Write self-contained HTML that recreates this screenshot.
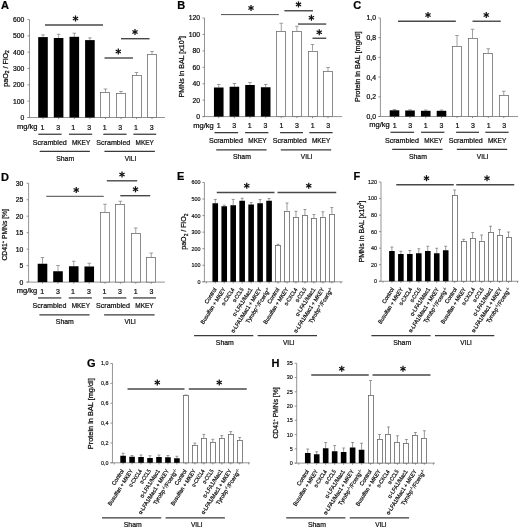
<!DOCTYPE html>
<html><head><meta charset="utf-8"><title>Figure</title>
<style>html,body{margin:0;padding:0;background:#fff}svg{display:block;filter:grayscale(1)}text{font-family:"Liberation Sans", sans-serif;stroke:#111;stroke-width:0.22px}</style>
</head><body>
<svg width="520" height="528" viewBox="0 0 520 528" font-family='"Liberation Sans", sans-serif'>
<rect width="520" height="528" fill="#fff"/>
<text x="1.00" y="9.40" font-size="11" text-anchor="start" fill="#000" font-weight="bold" >A</text>
<line x1="29.50" y1="19.50" x2="29.50" y2="117.50" stroke="#7a7a7a" stroke-width="0.8" />
<line x1="27.50" y1="117.50" x2="165.00" y2="117.50" stroke="#7a7a7a" stroke-width="0.8" />
<line x1="27.50" y1="117.50" x2="29.50" y2="117.50" stroke="#7a7a7a" stroke-width="0.8" />
<text x="24.30" y="119.95" font-size="6.8" text-anchor="end" fill="#0a0a0a" style="stroke-width:0.22px" >0</text>
<line x1="27.50" y1="101.17" x2="29.50" y2="101.17" stroke="#7a7a7a" stroke-width="0.8" />
<text x="24.30" y="103.62" font-size="6.8" text-anchor="end" fill="#0a0a0a" style="stroke-width:0.22px" >100</text>
<line x1="27.50" y1="84.84" x2="29.50" y2="84.84" stroke="#7a7a7a" stroke-width="0.8" />
<text x="24.30" y="87.29" font-size="6.8" text-anchor="end" fill="#0a0a0a" style="stroke-width:0.22px" >200</text>
<line x1="27.50" y1="68.51" x2="29.50" y2="68.51" stroke="#7a7a7a" stroke-width="0.8" />
<text x="24.30" y="70.96" font-size="6.8" text-anchor="end" fill="#0a0a0a" style="stroke-width:0.22px" >300</text>
<line x1="27.50" y1="52.18" x2="29.50" y2="52.18" stroke="#7a7a7a" stroke-width="0.8" />
<text x="24.30" y="54.63" font-size="6.8" text-anchor="end" fill="#0a0a0a" style="stroke-width:0.22px" >400</text>
<line x1="27.50" y1="35.85" x2="29.50" y2="35.85" stroke="#7a7a7a" stroke-width="0.8" />
<text x="24.30" y="38.30" font-size="6.8" text-anchor="end" fill="#0a0a0a" style="stroke-width:0.22px" >500</text>
<line x1="27.50" y1="19.52" x2="29.50" y2="19.52" stroke="#7a7a7a" stroke-width="0.8" />
<text x="24.30" y="21.97" font-size="6.8" text-anchor="end" fill="#0a0a0a" style="stroke-width:0.22px" >600</text>
<line x1="43.00" y1="117.50" x2="43.00" y2="119.10" stroke="#707070" stroke-width="0.8" />
<line x1="58.60" y1="117.50" x2="58.60" y2="119.10" stroke="#707070" stroke-width="0.8" />
<line x1="74.30" y1="117.50" x2="74.30" y2="119.10" stroke="#707070" stroke-width="0.8" />
<line x1="89.90" y1="117.50" x2="89.90" y2="119.10" stroke="#707070" stroke-width="0.8" />
<line x1="105.50" y1="117.50" x2="105.50" y2="119.10" stroke="#707070" stroke-width="0.8" />
<line x1="121.00" y1="117.50" x2="121.00" y2="119.10" stroke="#707070" stroke-width="0.8" />
<line x1="136.50" y1="117.50" x2="136.50" y2="119.10" stroke="#707070" stroke-width="0.8" />
<line x1="152.00" y1="117.50" x2="152.00" y2="119.10" stroke="#707070" stroke-width="0.8" />
<line x1="43.00" y1="34.90" x2="43.00" y2="37.10" stroke="#787878" stroke-width="0.7" />
<line x1="41.20" y1="34.90" x2="44.80" y2="34.90" stroke="#787878" stroke-width="0.7" />
<rect x="38.20" y="37.10" width="9.60" height="80.40" fill="#000"/>
<line x1="58.60" y1="34.30" x2="58.60" y2="38.00" stroke="#787878" stroke-width="0.7" />
<line x1="56.80" y1="34.30" x2="60.40" y2="34.30" stroke="#787878" stroke-width="0.7" />
<rect x="53.80" y="38.00" width="9.60" height="79.50" fill="#000"/>
<line x1="74.30" y1="33.20" x2="74.30" y2="36.80" stroke="#787878" stroke-width="0.7" />
<line x1="72.50" y1="33.20" x2="76.10" y2="33.20" stroke="#787878" stroke-width="0.7" />
<rect x="69.50" y="36.80" width="9.60" height="80.70" fill="#000"/>
<line x1="89.90" y1="37.90" x2="89.90" y2="40.10" stroke="#787878" stroke-width="0.7" />
<line x1="88.10" y1="37.90" x2="91.70" y2="37.90" stroke="#787878" stroke-width="0.7" />
<rect x="85.10" y="40.10" width="9.60" height="77.40" fill="#000"/>
<line x1="105.50" y1="89.00" x2="105.50" y2="92.50" stroke="#787878" stroke-width="0.7" />
<line x1="103.70" y1="89.00" x2="107.30" y2="89.00" stroke="#787878" stroke-width="0.7" />
<rect x="100.50" y="92.50" width="9.00" height="25.00" fill="#fff" stroke="#6c6c6c" stroke-width="0.78"/>
<line x1="121.00" y1="91.50" x2="121.00" y2="93.00" stroke="#787878" stroke-width="0.7" />
<line x1="119.20" y1="91.50" x2="122.80" y2="91.50" stroke="#787878" stroke-width="0.7" />
<rect x="116.50" y="93.50" width="9.00" height="24.00" fill="#fff" stroke="#6c6c6c" stroke-width="0.78"/>
<line x1="136.50" y1="72.50" x2="136.50" y2="75.50" stroke="#787878" stroke-width="0.7" />
<line x1="134.70" y1="72.50" x2="138.30" y2="72.50" stroke="#787878" stroke-width="0.7" />
<rect x="132.50" y="75.50" width="9.00" height="42.00" fill="#fff" stroke="#6c6c6c" stroke-width="0.78"/>
<line x1="152.00" y1="51.50" x2="152.00" y2="54.50" stroke="#787878" stroke-width="0.7" />
<line x1="150.20" y1="51.50" x2="153.80" y2="51.50" stroke="#787878" stroke-width="0.7" />
<rect x="147.50" y="54.50" width="9.00" height="63.00" fill="#fff" stroke="#6c6c6c" stroke-width="0.78"/>
<text x="7.60" y="68.40" font-size="7" text-anchor="middle" fill="#0a0a0a" textLength="36.50" lengthAdjust="spacingAndGlyphs" transform="rotate(-90 7.60 68.40)" style="stroke-width:0.25px" >paO<tspan font-size="4.8" dy="1.5">2</tspan><tspan dy="-1.5"> / FiO</tspan><tspan font-size="4.8" dy="1.5">2</tspan></text>
<text x="37.50" y="129.20" font-size="7" text-anchor="end" fill="#0a0a0a" textLength="20.50" lengthAdjust="spacingAndGlyphs" >mg/kg</text>
<text x="42.40" y="129.80" font-size="7" text-anchor="middle" fill="#0a0a0a" >1</text>
<text x="58.30" y="129.80" font-size="7" text-anchor="middle" fill="#0a0a0a" >3</text>
<text x="73.30" y="129.80" font-size="7" text-anchor="middle" fill="#0a0a0a" >1</text>
<text x="89.20" y="129.80" font-size="7" text-anchor="middle" fill="#0a0a0a" >3</text>
<text x="104.70" y="129.80" font-size="7" text-anchor="middle" fill="#0a0a0a" >1</text>
<text x="120.30" y="129.80" font-size="7" text-anchor="middle" fill="#0a0a0a" >3</text>
<text x="136.00" y="129.80" font-size="7" text-anchor="middle" fill="#0a0a0a" >1</text>
<text x="151.80" y="129.80" font-size="7" text-anchor="middle" fill="#0a0a0a" >3</text>
<line x1="38.30" y1="134.25" x2="61.60" y2="134.25" stroke="#3a3a3a" stroke-width="1.25" />
<line x1="69.00" y1="134.25" x2="92.20" y2="134.25" stroke="#3a3a3a" stroke-width="1.25" />
<line x1="103.30" y1="134.25" x2="126.60" y2="134.25" stroke="#3a3a3a" stroke-width="1.25" />
<line x1="133.40" y1="134.25" x2="156.20" y2="134.25" stroke="#3a3a3a" stroke-width="1.25" />
<line x1="39.70" y1="151.25" x2="89.90" y2="151.25" stroke="#3a3a3a" stroke-width="1.25" />
<line x1="104.40" y1="151.25" x2="154.90" y2="151.25" stroke="#3a3a3a" stroke-width="1.25" />
<text x="49.80" y="144.60" font-size="7" text-anchor="middle" fill="#0a0a0a" textLength="34.00" lengthAdjust="spacingAndGlyphs" >Scrambled</text>
<text x="81.10" y="144.60" font-size="7" text-anchor="middle" fill="#0a0a0a" textLength="18.30" lengthAdjust="spacingAndGlyphs" >MKEY</text>
<text x="113.30" y="144.60" font-size="7" text-anchor="middle" fill="#0a0a0a" textLength="34.00" lengthAdjust="spacingAndGlyphs" >Scrambled</text>
<text x="144.70" y="144.60" font-size="7" text-anchor="middle" fill="#0a0a0a" textLength="18.30" lengthAdjust="spacingAndGlyphs" >MKEY</text>
<text x="65.15" y="160.50" font-size="7" text-anchor="middle" fill="#0a0a0a" textLength="18.00" lengthAdjust="spacingAndGlyphs" >Sham</text>
<text x="130.45" y="160.50" font-size="7" text-anchor="middle" fill="#0a0a0a" textLength="11.50" lengthAdjust="spacingAndGlyphs" >VILI</text>
<line x1="45.00" y1="25.00" x2="103.00" y2="25.00" stroke="#484848" stroke-width="1.4" />
<line x1="75.50" y1="15.45" x2="75.50" y2="21.55" stroke="#111" stroke-width="1.25" stroke-linecap="butt"/>
<line x1="72.86" y1="16.98" x2="78.14" y2="20.02" stroke="#111" stroke-width="1.25" stroke-linecap="butt"/>
<line x1="78.14" y1="16.98" x2="72.86" y2="20.02" stroke="#111" stroke-width="1.25" stroke-linecap="butt"/>
<line x1="104.50" y1="58.00" x2="133.00" y2="58.00" stroke="#484848" stroke-width="1.4" />
<line x1="118.30" y1="48.45" x2="118.30" y2="54.55" stroke="#111" stroke-width="1.25" stroke-linecap="butt"/>
<line x1="115.66" y1="49.98" x2="120.94" y2="53.02" stroke="#111" stroke-width="1.25" stroke-linecap="butt"/>
<line x1="120.94" y1="49.98" x2="115.66" y2="53.02" stroke="#111" stroke-width="1.25" stroke-linecap="butt"/>
<line x1="121.00" y1="38.70" x2="149.50" y2="38.70" stroke="#484848" stroke-width="1.4" />
<line x1="135.00" y1="28.95" x2="135.00" y2="35.05" stroke="#111" stroke-width="1.25" stroke-linecap="butt"/>
<line x1="132.36" y1="30.48" x2="137.64" y2="33.52" stroke="#111" stroke-width="1.25" stroke-linecap="butt"/>
<line x1="137.64" y1="30.48" x2="132.36" y2="33.52" stroke="#111" stroke-width="1.25" stroke-linecap="butt"/>
<text x="177.30" y="9.00" font-size="11" text-anchor="start" fill="#000" font-weight="bold" >B</text>
<line x1="204.50" y1="18.00" x2="204.50" y2="116.60" stroke="#7a7a7a" stroke-width="0.8" />
<line x1="202.50" y1="116.60" x2="342.20" y2="116.60" stroke="#7a7a7a" stroke-width="0.8" />
<line x1="202.50" y1="116.60" x2="204.50" y2="116.60" stroke="#7a7a7a" stroke-width="0.8" />
<text x="200.10" y="119.05" font-size="6.8" text-anchor="end" fill="#0a0a0a" style="stroke-width:0.22px" >0</text>
<line x1="202.50" y1="100.17" x2="204.50" y2="100.17" stroke="#7a7a7a" stroke-width="0.8" />
<text x="200.10" y="102.62" font-size="6.8" text-anchor="end" fill="#0a0a0a" style="stroke-width:0.22px" >20</text>
<line x1="202.50" y1="83.74" x2="204.50" y2="83.74" stroke="#7a7a7a" stroke-width="0.8" />
<text x="200.10" y="86.19" font-size="6.8" text-anchor="end" fill="#0a0a0a" style="stroke-width:0.22px" >40</text>
<line x1="202.50" y1="67.31" x2="204.50" y2="67.31" stroke="#7a7a7a" stroke-width="0.8" />
<text x="200.10" y="69.76" font-size="6.8" text-anchor="end" fill="#0a0a0a" style="stroke-width:0.22px" >60</text>
<line x1="202.50" y1="50.88" x2="204.50" y2="50.88" stroke="#7a7a7a" stroke-width="0.8" />
<text x="200.10" y="53.33" font-size="6.8" text-anchor="end" fill="#0a0a0a" style="stroke-width:0.22px" >80</text>
<line x1="202.50" y1="34.45" x2="204.50" y2="34.45" stroke="#7a7a7a" stroke-width="0.8" />
<text x="200.10" y="36.90" font-size="6.8" text-anchor="end" fill="#0a0a0a" style="stroke-width:0.22px" >100</text>
<line x1="202.50" y1="18.02" x2="204.50" y2="18.02" stroke="#7a7a7a" stroke-width="0.8" />
<text x="200.10" y="20.47" font-size="6.8" text-anchor="end" fill="#0a0a0a" style="stroke-width:0.22px" >120</text>
<line x1="218.75" y1="116.60" x2="218.75" y2="118.20" stroke="#707070" stroke-width="0.8" />
<line x1="234.40" y1="116.60" x2="234.40" y2="118.20" stroke="#707070" stroke-width="0.8" />
<line x1="250.00" y1="116.60" x2="250.00" y2="118.20" stroke="#707070" stroke-width="0.8" />
<line x1="265.70" y1="116.60" x2="265.70" y2="118.20" stroke="#707070" stroke-width="0.8" />
<line x1="281.25" y1="116.60" x2="281.25" y2="118.20" stroke="#707070" stroke-width="0.8" />
<line x1="296.90" y1="116.60" x2="296.90" y2="118.20" stroke="#707070" stroke-width="0.8" />
<line x1="312.50" y1="116.60" x2="312.50" y2="118.20" stroke="#707070" stroke-width="0.8" />
<line x1="328.00" y1="116.60" x2="328.00" y2="118.20" stroke="#707070" stroke-width="0.8" />
<line x1="218.75" y1="84.50" x2="218.75" y2="87.50" stroke="#787878" stroke-width="0.7" />
<line x1="216.95" y1="84.50" x2="220.55" y2="84.50" stroke="#787878" stroke-width="0.7" />
<rect x="213.95" y="87.50" width="9.60" height="29.10" fill="#000"/>
<line x1="234.40" y1="83.50" x2="234.40" y2="86.75" stroke="#787878" stroke-width="0.7" />
<line x1="232.60" y1="83.50" x2="236.20" y2="83.50" stroke="#787878" stroke-width="0.7" />
<rect x="229.60" y="86.75" width="9.60" height="29.85" fill="#000"/>
<line x1="250.00" y1="82.50" x2="250.00" y2="85.00" stroke="#787878" stroke-width="0.7" />
<line x1="248.20" y1="82.50" x2="251.80" y2="82.50" stroke="#787878" stroke-width="0.7" />
<rect x="245.20" y="85.00" width="9.60" height="31.60" fill="#000"/>
<line x1="265.70" y1="84.50" x2="265.70" y2="87.25" stroke="#787878" stroke-width="0.7" />
<line x1="263.90" y1="84.50" x2="267.50" y2="84.50" stroke="#787878" stroke-width="0.7" />
<rect x="260.90" y="87.25" width="9.60" height="29.35" fill="#000"/>
<line x1="281.25" y1="23.25" x2="281.25" y2="31.25" stroke="#787878" stroke-width="0.7" />
<line x1="279.45" y1="23.25" x2="283.05" y2="23.25" stroke="#787878" stroke-width="0.7" />
<rect x="276.50" y="31.50" width="9.00" height="85.10" fill="#fff" stroke="#6c6c6c" stroke-width="0.78"/>
<line x1="296.90" y1="26.25" x2="296.90" y2="31.25" stroke="#787878" stroke-width="0.7" />
<line x1="295.10" y1="26.25" x2="298.70" y2="26.25" stroke="#787878" stroke-width="0.7" />
<rect x="292.50" y="31.50" width="9.00" height="85.10" fill="#fff" stroke="#6c6c6c" stroke-width="0.78"/>
<line x1="312.50" y1="44.50" x2="312.50" y2="50.75" stroke="#787878" stroke-width="0.7" />
<line x1="310.70" y1="44.50" x2="314.30" y2="44.50" stroke="#787878" stroke-width="0.7" />
<rect x="308.50" y="51.50" width="9.00" height="65.10" fill="#fff" stroke="#6c6c6c" stroke-width="0.78"/>
<line x1="328.00" y1="67.50" x2="328.00" y2="71.50" stroke="#787878" stroke-width="0.7" />
<line x1="326.20" y1="67.50" x2="329.80" y2="67.50" stroke="#787878" stroke-width="0.7" />
<rect x="323.50" y="71.50" width="9.00" height="45.10" fill="#fff" stroke="#6c6c6c" stroke-width="0.78"/>
<text x="183.70" y="66.70" font-size="7" text-anchor="middle" fill="#0a0a0a" textLength="61.50" lengthAdjust="spacingAndGlyphs" transform="rotate(-90 183.70 66.70)" style="stroke-width:0.25px" >PMNs in BAL [x10<tspan font-size="4.2" dy="-2.6">3</tspan><tspan dy="2.6">]</tspan></text>
<text x="213.80" y="127.60" font-size="7" text-anchor="end" fill="#0a0a0a" textLength="20.50" lengthAdjust="spacingAndGlyphs" >mg/kg</text>
<text x="218.60" y="128.20" font-size="7" text-anchor="middle" fill="#0a0a0a" >1</text>
<text x="234.20" y="128.20" font-size="7" text-anchor="middle" fill="#0a0a0a" >3</text>
<text x="249.80" y="128.20" font-size="7" text-anchor="middle" fill="#0a0a0a" >1</text>
<text x="265.40" y="128.20" font-size="7" text-anchor="middle" fill="#0a0a0a" >3</text>
<text x="281.40" y="128.20" font-size="7" text-anchor="middle" fill="#0a0a0a" >1</text>
<text x="296.90" y="128.20" font-size="7" text-anchor="middle" fill="#0a0a0a" >3</text>
<text x="312.70" y="128.20" font-size="7" text-anchor="middle" fill="#0a0a0a" >1</text>
<text x="328.10" y="128.20" font-size="7" text-anchor="middle" fill="#0a0a0a" >3</text>
<line x1="214.50" y1="132.65" x2="238.10" y2="132.65" stroke="#3a3a3a" stroke-width="1.25" />
<line x1="245.10" y1="132.65" x2="268.40" y2="132.65" stroke="#3a3a3a" stroke-width="1.25" />
<line x1="280.10" y1="132.65" x2="303.00" y2="132.65" stroke="#3a3a3a" stroke-width="1.25" />
<line x1="309.30" y1="132.65" x2="332.60" y2="132.65" stroke="#3a3a3a" stroke-width="1.25" />
<line x1="216.20" y1="149.75" x2="266.60" y2="149.75" stroke="#3a3a3a" stroke-width="1.25" />
<line x1="280.80" y1="149.75" x2="331.20" y2="149.75" stroke="#3a3a3a" stroke-width="1.25" />
<text x="225.90" y="143.00" font-size="7" text-anchor="middle" fill="#0a0a0a" textLength="34.00" lengthAdjust="spacingAndGlyphs" >Scrambled</text>
<text x="257.50" y="143.00" font-size="7" text-anchor="middle" fill="#0a0a0a" textLength="18.30" lengthAdjust="spacingAndGlyphs" >MKEY</text>
<text x="289.80" y="143.00" font-size="7" text-anchor="middle" fill="#0a0a0a" textLength="34.00" lengthAdjust="spacingAndGlyphs" >Scrambled</text>
<text x="321.10" y="143.00" font-size="7" text-anchor="middle" fill="#0a0a0a" textLength="18.30" lengthAdjust="spacingAndGlyphs" >MKEY</text>
<text x="241.90" y="158.90" font-size="7" text-anchor="middle" fill="#0a0a0a" textLength="18.00" lengthAdjust="spacingAndGlyphs" >Sham</text>
<text x="306.60" y="158.90" font-size="7" text-anchor="middle" fill="#0a0a0a" textLength="11.50" lengthAdjust="spacingAndGlyphs" >VILI</text>
<line x1="221.00" y1="14.60" x2="278.90" y2="14.60" stroke="#484848" stroke-width="0.95" />
<line x1="251.00" y1="4.95" x2="251.00" y2="11.05" stroke="#111" stroke-width="1.25" stroke-linecap="butt"/>
<line x1="248.36" y1="6.48" x2="253.64" y2="9.53" stroke="#111" stroke-width="1.25" stroke-linecap="butt"/>
<line x1="253.64" y1="6.48" x2="248.36" y2="9.53" stroke="#111" stroke-width="1.25" stroke-linecap="butt"/>
<line x1="284.40" y1="10.75" x2="313.00" y2="10.75" stroke="#484848" stroke-width="1.4" />
<line x1="298.50" y1="1.35" x2="298.50" y2="7.45" stroke="#111" stroke-width="1.25" stroke-linecap="butt"/>
<line x1="295.86" y1="2.88" x2="301.14" y2="5.92" stroke="#111" stroke-width="1.25" stroke-linecap="butt"/>
<line x1="301.14" y1="2.88" x2="295.86" y2="5.92" stroke="#111" stroke-width="1.25" stroke-linecap="butt"/>
<line x1="298.00" y1="24.05" x2="326.25" y2="24.05" stroke="#484848" stroke-width="1.4" />
<line x1="311.40" y1="14.65" x2="311.40" y2="20.75" stroke="#111" stroke-width="1.25" stroke-linecap="butt"/>
<line x1="308.76" y1="16.18" x2="314.04" y2="19.22" stroke="#111" stroke-width="1.25" stroke-linecap="butt"/>
<line x1="314.04" y1="16.18" x2="308.76" y2="19.22" stroke="#111" stroke-width="1.25" stroke-linecap="butt"/>
<line x1="312.50" y1="38.25" x2="326.25" y2="38.25" stroke="#484848" stroke-width="1.4" />
<line x1="319.25" y1="29.25" x2="319.25" y2="35.35" stroke="#111" stroke-width="1.25" stroke-linecap="butt"/>
<line x1="316.61" y1="30.77" x2="321.89" y2="33.82" stroke="#111" stroke-width="1.25" stroke-linecap="butt"/>
<line x1="321.89" y1="30.77" x2="316.61" y2="33.82" stroke="#111" stroke-width="1.25" stroke-linecap="butt"/>
<text x="353.30" y="9.40" font-size="11" text-anchor="start" fill="#000" font-weight="bold" >C</text>
<line x1="380.40" y1="18.00" x2="380.40" y2="116.50" stroke="#7a7a7a" stroke-width="0.8" />
<line x1="378.40" y1="116.50" x2="518.00" y2="116.50" stroke="#7a7a7a" stroke-width="0.8" />
<line x1="378.40" y1="116.50" x2="380.40" y2="116.50" stroke="#7a7a7a" stroke-width="0.8" />
<text x="376.00" y="118.95" font-size="6.8" text-anchor="end" fill="#0a0a0a" style="stroke-width:0.22px" >0,0</text>
<line x1="378.40" y1="96.80" x2="380.40" y2="96.80" stroke="#7a7a7a" stroke-width="0.8" />
<text x="376.00" y="99.25" font-size="6.8" text-anchor="end" fill="#0a0a0a" style="stroke-width:0.22px" >0,2</text>
<line x1="378.40" y1="77.10" x2="380.40" y2="77.10" stroke="#7a7a7a" stroke-width="0.8" />
<text x="376.00" y="79.55" font-size="6.8" text-anchor="end" fill="#0a0a0a" style="stroke-width:0.22px" >0,4</text>
<line x1="378.40" y1="57.40" x2="380.40" y2="57.40" stroke="#7a7a7a" stroke-width="0.8" />
<text x="376.00" y="59.85" font-size="6.8" text-anchor="end" fill="#0a0a0a" style="stroke-width:0.22px" >0,6</text>
<line x1="378.40" y1="37.70" x2="380.40" y2="37.70" stroke="#7a7a7a" stroke-width="0.8" />
<text x="376.00" y="40.15" font-size="6.8" text-anchor="end" fill="#0a0a0a" style="stroke-width:0.22px" >0,8</text>
<line x1="378.40" y1="18.00" x2="380.40" y2="18.00" stroke="#7a7a7a" stroke-width="0.8" />
<text x="376.00" y="20.45" font-size="6.8" text-anchor="end" fill="#0a0a0a" style="stroke-width:0.22px" >1,0</text>
<line x1="394.50" y1="116.50" x2="394.50" y2="118.10" stroke="#707070" stroke-width="0.8" />
<line x1="410.00" y1="116.50" x2="410.00" y2="118.10" stroke="#707070" stroke-width="0.8" />
<line x1="425.75" y1="116.50" x2="425.75" y2="118.10" stroke="#707070" stroke-width="0.8" />
<line x1="441.50" y1="116.50" x2="441.50" y2="118.10" stroke="#707070" stroke-width="0.8" />
<line x1="457.00" y1="116.50" x2="457.00" y2="118.10" stroke="#707070" stroke-width="0.8" />
<line x1="472.50" y1="116.50" x2="472.50" y2="118.10" stroke="#707070" stroke-width="0.8" />
<line x1="488.25" y1="116.50" x2="488.25" y2="118.10" stroke="#707070" stroke-width="0.8" />
<line x1="503.75" y1="116.50" x2="503.75" y2="118.10" stroke="#707070" stroke-width="0.8" />
<line x1="394.50" y1="109.50" x2="394.50" y2="110.30" stroke="#787878" stroke-width="0.7" />
<line x1="392.70" y1="109.50" x2="396.30" y2="109.50" stroke="#787878" stroke-width="0.7" />
<rect x="389.70" y="110.30" width="9.60" height="6.20" fill="#000"/>
<line x1="410.00" y1="109.80" x2="410.00" y2="110.50" stroke="#787878" stroke-width="0.7" />
<line x1="408.20" y1="109.80" x2="411.80" y2="109.80" stroke="#787878" stroke-width="0.7" />
<rect x="405.20" y="110.50" width="9.60" height="6.00" fill="#000"/>
<line x1="425.75" y1="110.00" x2="425.75" y2="110.80" stroke="#787878" stroke-width="0.7" />
<line x1="423.95" y1="110.00" x2="427.55" y2="110.00" stroke="#787878" stroke-width="0.7" />
<rect x="420.95" y="110.80" width="9.60" height="5.70" fill="#000"/>
<line x1="441.50" y1="110.00" x2="441.50" y2="110.80" stroke="#787878" stroke-width="0.7" />
<line x1="439.70" y1="110.00" x2="443.30" y2="110.00" stroke="#787878" stroke-width="0.7" />
<rect x="436.70" y="110.80" width="9.60" height="5.70" fill="#000"/>
<line x1="457.00" y1="35.50" x2="457.00" y2="46.25" stroke="#787878" stroke-width="0.7" />
<line x1="455.20" y1="35.50" x2="458.80" y2="35.50" stroke="#787878" stroke-width="0.7" />
<rect x="452.50" y="46.50" width="9.00" height="70.00" fill="#fff" stroke="#6c6c6c" stroke-width="0.78"/>
<line x1="472.50" y1="29.25" x2="472.50" y2="38.00" stroke="#787878" stroke-width="0.7" />
<line x1="470.70" y1="29.25" x2="474.30" y2="29.25" stroke="#787878" stroke-width="0.7" />
<rect x="468.50" y="38.50" width="9.00" height="78.00" fill="#fff" stroke="#6c6c6c" stroke-width="0.78"/>
<line x1="488.25" y1="48.75" x2="488.25" y2="53.25" stroke="#787878" stroke-width="0.7" />
<line x1="486.45" y1="48.75" x2="490.05" y2="48.75" stroke="#787878" stroke-width="0.7" />
<rect x="483.50" y="53.50" width="9.00" height="63.00" fill="#fff" stroke="#6c6c6c" stroke-width="0.78"/>
<line x1="503.75" y1="91.25" x2="503.75" y2="95.00" stroke="#787878" stroke-width="0.7" />
<line x1="501.95" y1="91.25" x2="505.55" y2="91.25" stroke="#787878" stroke-width="0.7" />
<rect x="499.50" y="95.50" width="9.00" height="21.00" fill="#fff" stroke="#6c6c6c" stroke-width="0.78"/>
<text x="360.00" y="66.70" font-size="7" text-anchor="middle" fill="#0a0a0a" textLength="70.50" lengthAdjust="spacingAndGlyphs" transform="rotate(-90 360.00 66.70)" style="stroke-width:0.25px" >Protein in BAL [mg/dl]</text>
<text x="389.80" y="127.25" font-size="7" text-anchor="end" fill="#0a0a0a" textLength="20.50" lengthAdjust="spacingAndGlyphs" >mg/kg</text>
<text x="394.60" y="127.85" font-size="7" text-anchor="middle" fill="#0a0a0a" >1</text>
<text x="410.20" y="127.85" font-size="7" text-anchor="middle" fill="#0a0a0a" >3</text>
<text x="425.80" y="127.85" font-size="7" text-anchor="middle" fill="#0a0a0a" >1</text>
<text x="441.40" y="127.85" font-size="7" text-anchor="middle" fill="#0a0a0a" >3</text>
<text x="457.40" y="127.85" font-size="7" text-anchor="middle" fill="#0a0a0a" >1</text>
<text x="472.90" y="127.85" font-size="7" text-anchor="middle" fill="#0a0a0a" >3</text>
<text x="488.70" y="127.85" font-size="7" text-anchor="middle" fill="#0a0a0a" >1</text>
<text x="504.10" y="127.85" font-size="7" text-anchor="middle" fill="#0a0a0a" >3</text>
<line x1="390.50" y1="132.30" x2="414.10" y2="132.30" stroke="#3a3a3a" stroke-width="1.25" />
<line x1="421.10" y1="132.30" x2="444.40" y2="132.30" stroke="#3a3a3a" stroke-width="1.25" />
<line x1="456.10" y1="132.30" x2="479.00" y2="132.30" stroke="#3a3a3a" stroke-width="1.25" />
<line x1="485.30" y1="132.30" x2="508.60" y2="132.30" stroke="#3a3a3a" stroke-width="1.25" />
<line x1="392.20" y1="149.40" x2="442.60" y2="149.40" stroke="#3a3a3a" stroke-width="1.25" />
<line x1="456.80" y1="149.40" x2="507.20" y2="149.40" stroke="#3a3a3a" stroke-width="1.25" />
<text x="401.90" y="142.65" font-size="7" text-anchor="middle" fill="#0a0a0a" textLength="34.00" lengthAdjust="spacingAndGlyphs" >Scrambled</text>
<text x="433.50" y="142.65" font-size="7" text-anchor="middle" fill="#0a0a0a" textLength="18.30" lengthAdjust="spacingAndGlyphs" >MKEY</text>
<text x="465.80" y="142.65" font-size="7" text-anchor="middle" fill="#0a0a0a" textLength="34.00" lengthAdjust="spacingAndGlyphs" >Scrambled</text>
<text x="497.10" y="142.65" font-size="7" text-anchor="middle" fill="#0a0a0a" textLength="18.30" lengthAdjust="spacingAndGlyphs" >MKEY</text>
<text x="417.90" y="158.55" font-size="7" text-anchor="middle" fill="#0a0a0a" textLength="18.00" lengthAdjust="spacingAndGlyphs" >Sham</text>
<text x="482.60" y="158.55" font-size="7" text-anchor="middle" fill="#0a0a0a" textLength="11.50" lengthAdjust="spacingAndGlyphs" >VILI</text>
<line x1="398.00" y1="21.25" x2="455.80" y2="21.25" stroke="#484848" stroke-width="1.4" />
<line x1="428.00" y1="11.95" x2="428.00" y2="18.05" stroke="#111" stroke-width="1.25" stroke-linecap="butt"/>
<line x1="425.36" y1="13.47" x2="430.64" y2="16.52" stroke="#111" stroke-width="1.25" stroke-linecap="butt"/>
<line x1="430.64" y1="13.47" x2="425.36" y2="16.52" stroke="#111" stroke-width="1.25" stroke-linecap="butt"/>
<line x1="472.50" y1="21.25" x2="500.75" y2="21.25" stroke="#484848" stroke-width="1.4" />
<line x1="486.25" y1="11.95" x2="486.25" y2="18.05" stroke="#111" stroke-width="1.25" stroke-linecap="butt"/>
<line x1="483.61" y1="13.47" x2="488.89" y2="16.52" stroke="#111" stroke-width="1.25" stroke-linecap="butt"/>
<line x1="488.89" y1="13.47" x2="483.61" y2="16.52" stroke="#111" stroke-width="1.25" stroke-linecap="butt"/>
<text x="1.00" y="180.50" font-size="11" text-anchor="start" fill="#000" font-weight="bold" >D</text>
<line x1="28.60" y1="183.25" x2="28.60" y2="282.10" stroke="#7a7a7a" stroke-width="0.8" />
<line x1="26.60" y1="282.10" x2="165.00" y2="282.10" stroke="#7a7a7a" stroke-width="0.8" />
<line x1="26.60" y1="282.10" x2="28.60" y2="282.10" stroke="#7a7a7a" stroke-width="0.8" />
<text x="23.40" y="284.55" font-size="6.8" text-anchor="end" fill="#0a0a0a" style="stroke-width:0.22px" >0</text>
<line x1="26.60" y1="265.62" x2="28.60" y2="265.62" stroke="#7a7a7a" stroke-width="0.8" />
<text x="23.40" y="268.07" font-size="6.8" text-anchor="end" fill="#0a0a0a" style="stroke-width:0.22px" >5</text>
<line x1="26.60" y1="249.15" x2="28.60" y2="249.15" stroke="#7a7a7a" stroke-width="0.8" />
<text x="23.40" y="251.60" font-size="6.8" text-anchor="end" fill="#0a0a0a" style="stroke-width:0.22px" >10</text>
<line x1="26.60" y1="232.68" x2="28.60" y2="232.68" stroke="#7a7a7a" stroke-width="0.8" />
<text x="23.40" y="235.12" font-size="6.8" text-anchor="end" fill="#0a0a0a" style="stroke-width:0.22px" >15</text>
<line x1="26.60" y1="216.20" x2="28.60" y2="216.20" stroke="#7a7a7a" stroke-width="0.8" />
<text x="23.40" y="218.65" font-size="6.8" text-anchor="end" fill="#0a0a0a" style="stroke-width:0.22px" >20</text>
<line x1="26.60" y1="199.73" x2="28.60" y2="199.73" stroke="#7a7a7a" stroke-width="0.8" />
<text x="23.40" y="202.17" font-size="6.8" text-anchor="end" fill="#0a0a0a" style="stroke-width:0.22px" >25</text>
<line x1="26.60" y1="183.25" x2="28.60" y2="183.25" stroke="#7a7a7a" stroke-width="0.8" />
<text x="23.40" y="185.70" font-size="6.8" text-anchor="end" fill="#0a0a0a" style="stroke-width:0.22px" >30</text>
<line x1="42.50" y1="282.10" x2="42.50" y2="283.70" stroke="#707070" stroke-width="0.8" />
<line x1="58.00" y1="282.10" x2="58.00" y2="283.70" stroke="#707070" stroke-width="0.8" />
<line x1="73.75" y1="282.10" x2="73.75" y2="283.70" stroke="#707070" stroke-width="0.8" />
<line x1="89.25" y1="282.10" x2="89.25" y2="283.70" stroke="#707070" stroke-width="0.8" />
<line x1="105.00" y1="282.10" x2="105.00" y2="283.70" stroke="#707070" stroke-width="0.8" />
<line x1="120.40" y1="282.10" x2="120.40" y2="283.70" stroke="#707070" stroke-width="0.8" />
<line x1="135.75" y1="282.10" x2="135.75" y2="283.70" stroke="#707070" stroke-width="0.8" />
<line x1="151.25" y1="282.10" x2="151.25" y2="283.70" stroke="#707070" stroke-width="0.8" />
<line x1="42.50" y1="257.50" x2="42.50" y2="263.75" stroke="#787878" stroke-width="0.7" />
<line x1="40.70" y1="257.50" x2="44.30" y2="257.50" stroke="#787878" stroke-width="0.7" />
<rect x="37.70" y="263.75" width="9.60" height="18.35" fill="#000"/>
<line x1="58.00" y1="265.50" x2="58.00" y2="271.25" stroke="#787878" stroke-width="0.7" />
<line x1="56.20" y1="265.50" x2="59.80" y2="265.50" stroke="#787878" stroke-width="0.7" />
<rect x="53.20" y="271.25" width="9.60" height="10.85" fill="#000"/>
<line x1="73.75" y1="261.25" x2="73.75" y2="266.25" stroke="#787878" stroke-width="0.7" />
<line x1="71.95" y1="261.25" x2="75.55" y2="261.25" stroke="#787878" stroke-width="0.7" />
<rect x="68.95" y="266.25" width="9.60" height="15.85" fill="#000"/>
<line x1="89.25" y1="263.25" x2="89.25" y2="266.50" stroke="#787878" stroke-width="0.7" />
<line x1="87.45" y1="263.25" x2="91.05" y2="263.25" stroke="#787878" stroke-width="0.7" />
<rect x="84.45" y="266.50" width="9.60" height="15.60" fill="#000"/>
<line x1="105.00" y1="204.25" x2="105.00" y2="212.00" stroke="#787878" stroke-width="0.7" />
<line x1="103.20" y1="204.25" x2="106.80" y2="204.25" stroke="#787878" stroke-width="0.7" />
<rect x="100.50" y="212.50" width="9.00" height="69.60" fill="#fff" stroke="#6c6c6c" stroke-width="0.78"/>
<line x1="120.40" y1="201.25" x2="120.40" y2="204.25" stroke="#787878" stroke-width="0.7" />
<line x1="118.60" y1="201.25" x2="122.20" y2="201.25" stroke="#787878" stroke-width="0.7" />
<rect x="115.50" y="204.50" width="9.00" height="77.60" fill="#fff" stroke="#6c6c6c" stroke-width="0.78"/>
<line x1="135.75" y1="228.00" x2="135.75" y2="233.00" stroke="#787878" stroke-width="0.7" />
<line x1="133.95" y1="228.00" x2="137.55" y2="228.00" stroke="#787878" stroke-width="0.7" />
<rect x="131.50" y="233.50" width="9.00" height="48.60" fill="#fff" stroke="#6c6c6c" stroke-width="0.78"/>
<line x1="151.25" y1="253.00" x2="151.25" y2="257.50" stroke="#787878" stroke-width="0.7" />
<line x1="149.45" y1="253.00" x2="153.05" y2="253.00" stroke="#787878" stroke-width="0.7" />
<rect x="146.50" y="257.50" width="9.00" height="24.60" fill="#fff" stroke="#6c6c6c" stroke-width="0.78"/>
<text x="6.90" y="234.80" font-size="7" text-anchor="middle" fill="#0a0a0a" textLength="51.50" lengthAdjust="spacingAndGlyphs" transform="rotate(-90 6.90 234.80)" style="stroke-width:0.25px" >CD41<tspan font-size="4.2" dy="-2.6">+</tspan><tspan dy="2.6"> PMNs [%]</tspan></text>
<text x="37.20" y="292.90" font-size="7" text-anchor="end" fill="#0a0a0a" textLength="20.50" lengthAdjust="spacingAndGlyphs" >mg/kg</text>
<text x="42.10" y="293.50" font-size="7" text-anchor="middle" fill="#0a0a0a" >1</text>
<text x="58.00" y="293.50" font-size="7" text-anchor="middle" fill="#0a0a0a" >3</text>
<text x="73.00" y="293.50" font-size="7" text-anchor="middle" fill="#0a0a0a" >1</text>
<text x="88.90" y="293.50" font-size="7" text-anchor="middle" fill="#0a0a0a" >3</text>
<text x="104.40" y="293.50" font-size="7" text-anchor="middle" fill="#0a0a0a" >1</text>
<text x="120.00" y="293.50" font-size="7" text-anchor="middle" fill="#0a0a0a" >3</text>
<text x="135.70" y="293.50" font-size="7" text-anchor="middle" fill="#0a0a0a" >1</text>
<text x="151.50" y="293.50" font-size="7" text-anchor="middle" fill="#0a0a0a" >3</text>
<line x1="38.00" y1="297.95" x2="61.30" y2="297.95" stroke="#3a3a3a" stroke-width="1.25" />
<line x1="68.70" y1="297.95" x2="91.90" y2="297.95" stroke="#3a3a3a" stroke-width="1.25" />
<line x1="103.00" y1="297.95" x2="126.30" y2="297.95" stroke="#3a3a3a" stroke-width="1.25" />
<line x1="133.10" y1="297.95" x2="155.90" y2="297.95" stroke="#3a3a3a" stroke-width="1.25" />
<line x1="39.40" y1="314.95" x2="89.60" y2="314.95" stroke="#3a3a3a" stroke-width="1.25" />
<line x1="104.10" y1="314.95" x2="154.60" y2="314.95" stroke="#3a3a3a" stroke-width="1.25" />
<text x="49.50" y="308.30" font-size="7" text-anchor="middle" fill="#0a0a0a" textLength="34.00" lengthAdjust="spacingAndGlyphs" >Scrambled</text>
<text x="80.80" y="308.30" font-size="7" text-anchor="middle" fill="#0a0a0a" textLength="18.30" lengthAdjust="spacingAndGlyphs" >MKEY</text>
<text x="113.00" y="308.30" font-size="7" text-anchor="middle" fill="#0a0a0a" textLength="34.00" lengthAdjust="spacingAndGlyphs" >Scrambled</text>
<text x="144.40" y="308.30" font-size="7" text-anchor="middle" fill="#0a0a0a" textLength="18.30" lengthAdjust="spacingAndGlyphs" >MKEY</text>
<text x="64.85" y="324.20" font-size="7" text-anchor="middle" fill="#0a0a0a" textLength="18.00" lengthAdjust="spacingAndGlyphs" >Sham</text>
<text x="130.15" y="324.20" font-size="7" text-anchor="middle" fill="#0a0a0a" textLength="11.50" lengthAdjust="spacingAndGlyphs" >VILI</text>
<line x1="46.25" y1="196.30" x2="103.75" y2="196.30" stroke="#484848" stroke-width="1.0" />
<line x1="76.25" y1="186.95" x2="76.25" y2="193.05" stroke="#111" stroke-width="1.25" stroke-linecap="butt"/>
<line x1="73.61" y1="188.47" x2="78.89" y2="191.53" stroke="#111" stroke-width="1.25" stroke-linecap="butt"/>
<line x1="78.89" y1="188.47" x2="73.61" y2="191.53" stroke="#111" stroke-width="1.25" stroke-linecap="butt"/>
<line x1="106.80" y1="180.80" x2="137.20" y2="180.80" stroke="#484848" stroke-width="1.4" />
<line x1="122.00" y1="171.45" x2="122.00" y2="177.55" stroke="#111" stroke-width="1.25" stroke-linecap="butt"/>
<line x1="119.36" y1="172.97" x2="124.64" y2="176.03" stroke="#111" stroke-width="1.25" stroke-linecap="butt"/>
<line x1="124.64" y1="172.97" x2="119.36" y2="176.03" stroke="#111" stroke-width="1.25" stroke-linecap="butt"/>
<line x1="120.30" y1="195.70" x2="150.20" y2="195.70" stroke="#484848" stroke-width="1.4" />
<line x1="135.50" y1="186.25" x2="135.50" y2="192.35" stroke="#111" stroke-width="1.25" stroke-linecap="butt"/>
<line x1="132.86" y1="187.78" x2="138.14" y2="190.83" stroke="#111" stroke-width="1.25" stroke-linecap="butt"/>
<line x1="138.14" y1="187.78" x2="132.86" y2="190.83" stroke="#111" stroke-width="1.25" stroke-linecap="butt"/>
<text x="177.00" y="180.20" font-size="11" text-anchor="start" fill="#000" font-weight="bold" >E</text>
<line x1="204.40" y1="182.50" x2="204.40" y2="281.80" stroke="#7a7a7a" stroke-width="0.8" />
<line x1="202.40" y1="281.80" x2="342.60" y2="281.80" stroke="#7a7a7a" stroke-width="0.8" />
<line x1="202.40" y1="281.80" x2="204.40" y2="281.80" stroke="#7a7a7a" stroke-width="0.8" />
<text x="200.40" y="283.74" font-size="5.4" text-anchor="end" fill="#0a0a0a" style="stroke-width:0.16px" >0</text>
<line x1="202.40" y1="265.25" x2="204.40" y2="265.25" stroke="#7a7a7a" stroke-width="0.8" />
<text x="200.40" y="267.19" font-size="5.4" text-anchor="end" fill="#0a0a0a" style="stroke-width:0.16px" >100</text>
<line x1="202.40" y1="248.70" x2="204.40" y2="248.70" stroke="#7a7a7a" stroke-width="0.8" />
<text x="200.40" y="250.64" font-size="5.4" text-anchor="end" fill="#0a0a0a" style="stroke-width:0.16px" >200</text>
<line x1="202.40" y1="232.15" x2="204.40" y2="232.15" stroke="#7a7a7a" stroke-width="0.8" />
<text x="200.40" y="234.09" font-size="5.4" text-anchor="end" fill="#0a0a0a" style="stroke-width:0.16px" >300</text>
<line x1="202.40" y1="215.60" x2="204.40" y2="215.60" stroke="#7a7a7a" stroke-width="0.8" />
<text x="200.40" y="217.54" font-size="5.4" text-anchor="end" fill="#0a0a0a" style="stroke-width:0.16px" >400</text>
<line x1="202.40" y1="199.05" x2="204.40" y2="199.05" stroke="#7a7a7a" stroke-width="0.8" />
<text x="200.40" y="200.99" font-size="5.4" text-anchor="end" fill="#0a0a0a" style="stroke-width:0.16px" >500</text>
<line x1="202.40" y1="182.50" x2="204.40" y2="182.50" stroke="#7a7a7a" stroke-width="0.8" />
<text x="200.40" y="184.44" font-size="5.4" text-anchor="end" fill="#0a0a0a" style="stroke-width:0.16px" >600</text>
<line x1="206.28" y1="281.80" x2="206.28" y2="283.40" stroke="#707070" stroke-width="0.8" />
<line x1="215.25" y1="281.80" x2="215.25" y2="283.40" stroke="#707070" stroke-width="0.8" />
<line x1="224.22" y1="281.80" x2="224.22" y2="283.40" stroke="#707070" stroke-width="0.8" />
<line x1="233.19" y1="281.80" x2="233.19" y2="283.40" stroke="#707070" stroke-width="0.8" />
<line x1="242.16" y1="281.80" x2="242.16" y2="283.40" stroke="#707070" stroke-width="0.8" />
<line x1="251.13" y1="281.80" x2="251.13" y2="283.40" stroke="#707070" stroke-width="0.8" />
<line x1="260.10" y1="281.80" x2="260.10" y2="283.40" stroke="#707070" stroke-width="0.8" />
<line x1="269.07" y1="281.80" x2="269.07" y2="283.40" stroke="#707070" stroke-width="0.8" />
<line x1="278.04" y1="281.80" x2="278.04" y2="283.40" stroke="#707070" stroke-width="0.8" />
<line x1="287.01" y1="281.80" x2="287.01" y2="283.40" stroke="#707070" stroke-width="0.8" />
<line x1="295.98" y1="281.80" x2="295.98" y2="283.40" stroke="#707070" stroke-width="0.8" />
<line x1="304.95" y1="281.80" x2="304.95" y2="283.40" stroke="#707070" stroke-width="0.8" />
<line x1="313.92" y1="281.80" x2="313.92" y2="283.40" stroke="#707070" stroke-width="0.8" />
<line x1="322.89" y1="281.80" x2="322.89" y2="283.40" stroke="#707070" stroke-width="0.8" />
<line x1="331.86" y1="281.80" x2="331.86" y2="283.40" stroke="#707070" stroke-width="0.8" />
<line x1="340.83" y1="281.80" x2="340.83" y2="283.40" stroke="#707070" stroke-width="0.8" />
<line x1="215.25" y1="199.40" x2="215.25" y2="203.25" stroke="#707070" stroke-width="0.7" />
<line x1="213.80" y1="199.40" x2="216.70" y2="199.40" stroke="#707070" stroke-width="0.7" />
<rect x="212.45" y="203.25" width="5.60" height="78.55" fill="#000"/>
<line x1="224.22" y1="205.20" x2="224.22" y2="206.25" stroke="#707070" stroke-width="0.7" />
<line x1="222.77" y1="205.20" x2="225.67" y2="205.20" stroke="#707070" stroke-width="0.7" />
<rect x="221.42" y="206.25" width="5.60" height="75.55" fill="#000"/>
<line x1="233.19" y1="199.40" x2="233.19" y2="205.25" stroke="#707070" stroke-width="0.7" />
<line x1="231.74" y1="199.40" x2="234.64" y2="199.40" stroke="#707070" stroke-width="0.7" />
<rect x="230.39" y="205.25" width="5.60" height="76.55" fill="#000"/>
<line x1="242.16" y1="198.30" x2="242.16" y2="200.75" stroke="#707070" stroke-width="0.7" />
<line x1="240.71" y1="198.30" x2="243.61" y2="198.30" stroke="#707070" stroke-width="0.7" />
<rect x="239.36" y="200.75" width="5.60" height="81.05" fill="#000"/>
<line x1="251.13" y1="202.60" x2="251.13" y2="204.50" stroke="#707070" stroke-width="0.7" />
<line x1="249.68" y1="202.60" x2="252.58" y2="202.60" stroke="#707070" stroke-width="0.7" />
<rect x="248.33" y="204.50" width="5.60" height="77.30" fill="#000"/>
<line x1="260.10" y1="199.60" x2="260.10" y2="203.25" stroke="#707070" stroke-width="0.7" />
<line x1="258.65" y1="199.60" x2="261.55" y2="199.60" stroke="#707070" stroke-width="0.7" />
<rect x="257.30" y="203.25" width="5.60" height="78.55" fill="#000"/>
<line x1="269.07" y1="198.50" x2="269.07" y2="200.75" stroke="#707070" stroke-width="0.7" />
<line x1="267.62" y1="198.50" x2="270.52" y2="198.50" stroke="#707070" stroke-width="0.7" />
<rect x="266.27" y="200.75" width="5.60" height="81.05" fill="#000"/>
<line x1="278.04" y1="244.30" x2="278.04" y2="245.00" stroke="#707070" stroke-width="0.7" />
<line x1="276.59" y1="244.30" x2="279.49" y2="244.30" stroke="#707070" stroke-width="0.7" />
<rect x="275.50" y="245.50" width="5.00" height="36.30" fill="#fff" stroke="#666" stroke-width="0.8"/>
<line x1="287.01" y1="203.00" x2="287.01" y2="210.75" stroke="#707070" stroke-width="0.7" />
<line x1="285.56" y1="203.00" x2="288.46" y2="203.00" stroke="#707070" stroke-width="0.7" />
<rect x="284.50" y="211.50" width="5.00" height="70.30" fill="#fff" stroke="#666" stroke-width="0.8"/>
<line x1="295.98" y1="211.25" x2="295.98" y2="217.50" stroke="#707070" stroke-width="0.7" />
<line x1="294.53" y1="211.25" x2="297.43" y2="211.25" stroke="#707070" stroke-width="0.7" />
<rect x="293.50" y="217.50" width="5.00" height="64.30" fill="#fff" stroke="#666" stroke-width="0.8"/>
<line x1="304.95" y1="209.50" x2="304.95" y2="215.50" stroke="#707070" stroke-width="0.7" />
<line x1="303.50" y1="209.50" x2="306.40" y2="209.50" stroke="#707070" stroke-width="0.7" />
<rect x="302.50" y="215.50" width="5.00" height="66.30" fill="#fff" stroke="#666" stroke-width="0.8"/>
<line x1="313.92" y1="214.50" x2="313.92" y2="218.25" stroke="#707070" stroke-width="0.7" />
<line x1="312.47" y1="214.50" x2="315.37" y2="214.50" stroke="#707070" stroke-width="0.7" />
<rect x="311.50" y="218.50" width="5.00" height="63.30" fill="#fff" stroke="#666" stroke-width="0.8"/>
<line x1="322.89" y1="211.75" x2="322.89" y2="216.75" stroke="#707070" stroke-width="0.7" />
<line x1="321.44" y1="211.75" x2="324.34" y2="211.75" stroke="#707070" stroke-width="0.7" />
<rect x="320.50" y="217.50" width="5.00" height="64.30" fill="#fff" stroke="#666" stroke-width="0.8"/>
<line x1="331.86" y1="207.50" x2="331.86" y2="213.75" stroke="#707070" stroke-width="0.7" />
<line x1="330.41" y1="207.50" x2="333.31" y2="207.50" stroke="#707070" stroke-width="0.7" />
<rect x="329.50" y="214.50" width="5.00" height="67.30" fill="#fff" stroke="#666" stroke-width="0.8"/>
<text x="186.50" y="231.70" font-size="8" text-anchor="middle" fill="#0a0a0a" textLength="36.20" lengthAdjust="spacingAndGlyphs" transform="rotate(-90 186.50 231.70)" style="stroke-width:0.25px" >paO<tspan font-size="5.4" dy="1.6">2</tspan><tspan dy="-1.6"> / FiO</tspan><tspan font-size="5.4" dy="1.6">2</tspan></text>
<text x="216.85" y="289.40" font-size="5.7" text-anchor="end" fill="#0a0a0a" textLength="17.6" lengthAdjust="spacingAndGlyphs" transform="rotate(-57.5 216.85 289.40)">Control</text>
<text x="225.82" y="289.40" font-size="5.7" text-anchor="end" fill="#0a0a0a" textLength="41.5" lengthAdjust="spacingAndGlyphs" transform="rotate(-57.5 225.82 289.40)">Busulfan + MKEY</text>
<text x="234.79" y="289.40" font-size="5.7" text-anchor="end" fill="#0a0a0a" textLength="19.6" lengthAdjust="spacingAndGlyphs" transform="rotate(-57.5 234.79 289.40)">α-CXCL4</text>
<text x="243.76" y="289.40" font-size="5.7" text-anchor="end" fill="#0a0a0a" textLength="15.9" lengthAdjust="spacingAndGlyphs" transform="rotate(-57.5 243.76 289.40)">α-CCL5</text>
<text x="252.73" y="289.40" font-size="5.7" text-anchor="end" fill="#0a0a0a" textLength="32.3" lengthAdjust="spacingAndGlyphs" transform="rotate(-57.5 252.73 289.40)">α-LFA1/Mac1</text>
<text x="261.70" y="289.40" font-size="5.7" text-anchor="end" fill="#0a0a0a" textLength="51.9" lengthAdjust="spacingAndGlyphs" transform="rotate(-57.5 261.70 289.40)">α-LFA1/Mac1 + MKEY</text>
<text x="270.67" y="289.40" font-size="5.7" text-anchor="end" fill="#0a0a0a" textLength="40.6" lengthAdjust="spacingAndGlyphs" transform="rotate(-57.5 270.67 289.40)">Tyrobp<tspan font-size="3.6" dy="-2">-/-</tspan><tspan dy="2">/Fcerig</tspan><tspan font-size="3.6" dy="-2">-/-</tspan></text>
<text x="279.64" y="289.40" font-size="5.7" text-anchor="end" fill="#0a0a0a" textLength="17.6" lengthAdjust="spacingAndGlyphs" transform="rotate(-57.5 279.64 289.40)">Control</text>
<text x="288.61" y="289.40" font-size="5.7" text-anchor="end" fill="#0a0a0a" textLength="41.5" lengthAdjust="spacingAndGlyphs" transform="rotate(-57.5 288.61 289.40)">Busulfan + MKEY</text>
<text x="297.58" y="289.40" font-size="5.7" text-anchor="end" fill="#0a0a0a" textLength="19.6" lengthAdjust="spacingAndGlyphs" transform="rotate(-57.5 297.58 289.40)">α-CXCL4</text>
<text x="306.55" y="289.40" font-size="5.7" text-anchor="end" fill="#0a0a0a" textLength="15.9" lengthAdjust="spacingAndGlyphs" transform="rotate(-57.5 306.55 289.40)">α-CCL5</text>
<text x="315.52" y="289.40" font-size="5.7" text-anchor="end" fill="#0a0a0a" textLength="32.3" lengthAdjust="spacingAndGlyphs" transform="rotate(-57.5 315.52 289.40)">α-LFA1/Mac1</text>
<text x="324.49" y="289.40" font-size="5.7" text-anchor="end" fill="#0a0a0a" textLength="51.9" lengthAdjust="spacingAndGlyphs" transform="rotate(-57.5 324.49 289.40)">α-LFA1/Mac1 + MKEY</text>
<text x="333.46" y="289.40" font-size="5.7" text-anchor="end" fill="#0a0a0a" textLength="40.6" lengthAdjust="spacingAndGlyphs" transform="rotate(-57.5 333.46 289.40)">Tyrobp<tspan font-size="3.6" dy="-2">-/-</tspan><tspan dy="2">/Fcerig</tspan><tspan font-size="3.6" dy="-2">-/-</tspan></text>
<line x1="194.10" y1="335.70" x2="253.30" y2="335.70" stroke="#3a3a3a" stroke-width="1.25" />
<line x1="257.65" y1="335.70" x2="317.00" y2="335.70" stroke="#3a3a3a" stroke-width="1.25" />
<text x="224.85" y="344.90" font-size="7.2" text-anchor="middle" fill="#0a0a0a" textLength="18.00" lengthAdjust="spacingAndGlyphs" >Sham</text>
<text x="288.80" y="344.90" font-size="7.2" text-anchor="middle" fill="#0a0a0a" textLength="11.50" lengthAdjust="spacingAndGlyphs" >VILI</text>
<line x1="216.75" y1="192.50" x2="274.50" y2="192.50" stroke="#484848" stroke-width="1.4" />
<line x1="246.75" y1="182.70" x2="246.75" y2="188.80" stroke="#111" stroke-width="1.25" stroke-linecap="butt"/>
<line x1="244.11" y1="184.22" x2="249.39" y2="187.28" stroke="#111" stroke-width="1.25" stroke-linecap="butt"/>
<line x1="249.39" y1="184.22" x2="244.11" y2="187.28" stroke="#111" stroke-width="1.25" stroke-linecap="butt"/>
<line x1="277.50" y1="192.50" x2="336.25" y2="192.50" stroke="#484848" stroke-width="1.4" />
<line x1="308.75" y1="182.70" x2="308.75" y2="188.80" stroke="#111" stroke-width="1.25" stroke-linecap="butt"/>
<line x1="306.11" y1="184.22" x2="311.39" y2="187.28" stroke="#111" stroke-width="1.25" stroke-linecap="butt"/>
<line x1="311.39" y1="184.22" x2="306.11" y2="187.28" stroke="#111" stroke-width="1.25" stroke-linecap="butt"/>
<text x="353.50" y="179.70" font-size="11" text-anchor="start" fill="#000" font-weight="bold" >F</text>
<line x1="381.00" y1="182.00" x2="381.00" y2="281.25" stroke="#7a7a7a" stroke-width="0.8" />
<line x1="379.00" y1="281.25" x2="518.50" y2="281.25" stroke="#7a7a7a" stroke-width="0.8" />
<line x1="379.00" y1="281.25" x2="381.00" y2="281.25" stroke="#7a7a7a" stroke-width="0.8" />
<text x="377.00" y="283.19" font-size="5.4" text-anchor="end" fill="#0a0a0a" style="stroke-width:0.16px" >0</text>
<line x1="379.00" y1="264.71" x2="381.00" y2="264.71" stroke="#7a7a7a" stroke-width="0.8" />
<text x="377.00" y="266.65" font-size="5.4" text-anchor="end" fill="#0a0a0a" style="stroke-width:0.16px" >20</text>
<line x1="379.00" y1="248.17" x2="381.00" y2="248.17" stroke="#7a7a7a" stroke-width="0.8" />
<text x="377.00" y="250.11" font-size="5.4" text-anchor="end" fill="#0a0a0a" style="stroke-width:0.16px" >40</text>
<line x1="379.00" y1="231.63" x2="381.00" y2="231.63" stroke="#7a7a7a" stroke-width="0.8" />
<text x="377.00" y="233.57" font-size="5.4" text-anchor="end" fill="#0a0a0a" style="stroke-width:0.16px" >60</text>
<line x1="379.00" y1="215.09" x2="381.00" y2="215.09" stroke="#7a7a7a" stroke-width="0.8" />
<text x="377.00" y="217.03" font-size="5.4" text-anchor="end" fill="#0a0a0a" style="stroke-width:0.16px" >80</text>
<line x1="379.00" y1="198.55" x2="381.00" y2="198.55" stroke="#7a7a7a" stroke-width="0.8" />
<text x="377.00" y="200.49" font-size="5.4" text-anchor="end" fill="#0a0a0a" style="stroke-width:0.16px" >100</text>
<line x1="379.00" y1="182.01" x2="381.00" y2="182.01" stroke="#7a7a7a" stroke-width="0.8" />
<text x="377.00" y="183.95" font-size="5.4" text-anchor="end" fill="#0a0a0a" style="stroke-width:0.16px" >120</text>
<line x1="382.93" y1="281.25" x2="382.93" y2="282.85" stroke="#707070" stroke-width="0.8" />
<line x1="391.90" y1="281.25" x2="391.90" y2="282.85" stroke="#707070" stroke-width="0.8" />
<line x1="400.87" y1="281.25" x2="400.87" y2="282.85" stroke="#707070" stroke-width="0.8" />
<line x1="409.84" y1="281.25" x2="409.84" y2="282.85" stroke="#707070" stroke-width="0.8" />
<line x1="418.81" y1="281.25" x2="418.81" y2="282.85" stroke="#707070" stroke-width="0.8" />
<line x1="427.78" y1="281.25" x2="427.78" y2="282.85" stroke="#707070" stroke-width="0.8" />
<line x1="436.75" y1="281.25" x2="436.75" y2="282.85" stroke="#707070" stroke-width="0.8" />
<line x1="445.72" y1="281.25" x2="445.72" y2="282.85" stroke="#707070" stroke-width="0.8" />
<line x1="454.69" y1="281.25" x2="454.69" y2="282.85" stroke="#707070" stroke-width="0.8" />
<line x1="463.66" y1="281.25" x2="463.66" y2="282.85" stroke="#707070" stroke-width="0.8" />
<line x1="472.63" y1="281.25" x2="472.63" y2="282.85" stroke="#707070" stroke-width="0.8" />
<line x1="481.60" y1="281.25" x2="481.60" y2="282.85" stroke="#707070" stroke-width="0.8" />
<line x1="490.57" y1="281.25" x2="490.57" y2="282.85" stroke="#707070" stroke-width="0.8" />
<line x1="499.54" y1="281.25" x2="499.54" y2="282.85" stroke="#707070" stroke-width="0.8" />
<line x1="508.51" y1="281.25" x2="508.51" y2="282.85" stroke="#707070" stroke-width="0.8" />
<line x1="517.48" y1="281.25" x2="517.48" y2="282.85" stroke="#707070" stroke-width="0.8" />
<line x1="391.90" y1="247.00" x2="391.90" y2="251.00" stroke="#707070" stroke-width="0.7" />
<line x1="390.45" y1="247.00" x2="393.35" y2="247.00" stroke="#707070" stroke-width="0.7" />
<rect x="389.10" y="251.00" width="5.60" height="30.25" fill="#000"/>
<line x1="400.87" y1="251.25" x2="400.87" y2="254.00" stroke="#707070" stroke-width="0.7" />
<line x1="399.42" y1="251.25" x2="402.32" y2="251.25" stroke="#707070" stroke-width="0.7" />
<rect x="398.07" y="254.00" width="5.60" height="27.25" fill="#000"/>
<line x1="409.84" y1="250.50" x2="409.84" y2="254.00" stroke="#707070" stroke-width="0.7" />
<line x1="408.39" y1="250.50" x2="411.29" y2="250.50" stroke="#707070" stroke-width="0.7" />
<rect x="407.04" y="254.00" width="5.60" height="27.25" fill="#000"/>
<line x1="418.81" y1="248.75" x2="418.81" y2="253.25" stroke="#707070" stroke-width="0.7" />
<line x1="417.36" y1="248.75" x2="420.26" y2="248.75" stroke="#707070" stroke-width="0.7" />
<rect x="416.01" y="253.25" width="5.60" height="28.00" fill="#000"/>
<line x1="427.78" y1="246.25" x2="427.78" y2="251.00" stroke="#707070" stroke-width="0.7" />
<line x1="426.33" y1="246.25" x2="429.23" y2="246.25" stroke="#707070" stroke-width="0.7" />
<rect x="424.98" y="251.00" width="5.60" height="30.25" fill="#000"/>
<line x1="436.75" y1="248.25" x2="436.75" y2="253.25" stroke="#707070" stroke-width="0.7" />
<line x1="435.30" y1="248.25" x2="438.20" y2="248.25" stroke="#707070" stroke-width="0.7" />
<rect x="433.95" y="253.25" width="5.60" height="28.00" fill="#000"/>
<line x1="445.72" y1="246.25" x2="445.72" y2="250.25" stroke="#707070" stroke-width="0.7" />
<line x1="444.27" y1="246.25" x2="447.17" y2="246.25" stroke="#707070" stroke-width="0.7" />
<rect x="442.92" y="250.25" width="5.60" height="31.00" fill="#000"/>
<line x1="454.69" y1="190.00" x2="454.69" y2="195.50" stroke="#707070" stroke-width="0.7" />
<line x1="453.24" y1="190.00" x2="456.14" y2="190.00" stroke="#707070" stroke-width="0.7" />
<rect x="452.50" y="195.50" width="5.00" height="85.75" fill="#fff" stroke="#666" stroke-width="0.8"/>
<line x1="463.66" y1="239.25" x2="463.66" y2="241.25" stroke="#707070" stroke-width="0.7" />
<line x1="462.21" y1="239.25" x2="465.11" y2="239.25" stroke="#707070" stroke-width="0.7" />
<rect x="461.50" y="241.50" width="5.00" height="39.75" fill="#fff" stroke="#666" stroke-width="0.8"/>
<line x1="472.63" y1="232.50" x2="472.63" y2="238.00" stroke="#707070" stroke-width="0.7" />
<line x1="471.18" y1="232.50" x2="474.08" y2="232.50" stroke="#707070" stroke-width="0.7" />
<rect x="470.50" y="238.50" width="5.00" height="42.75" fill="#fff" stroke="#666" stroke-width="0.8"/>
<line x1="481.60" y1="235.00" x2="481.60" y2="240.75" stroke="#707070" stroke-width="0.7" />
<line x1="480.15" y1="235.00" x2="483.05" y2="235.00" stroke="#707070" stroke-width="0.7" />
<rect x="479.50" y="241.50" width="5.00" height="39.75" fill="#fff" stroke="#666" stroke-width="0.8"/>
<line x1="490.57" y1="226.25" x2="490.57" y2="232.00" stroke="#707070" stroke-width="0.7" />
<line x1="489.12" y1="226.25" x2="492.02" y2="226.25" stroke="#707070" stroke-width="0.7" />
<rect x="488.50" y="232.50" width="5.00" height="48.75" fill="#fff" stroke="#666" stroke-width="0.8"/>
<line x1="499.54" y1="229.50" x2="499.54" y2="235.25" stroke="#707070" stroke-width="0.7" />
<line x1="498.09" y1="229.50" x2="500.99" y2="229.50" stroke="#707070" stroke-width="0.7" />
<rect x="497.50" y="235.50" width="5.00" height="45.75" fill="#fff" stroke="#666" stroke-width="0.8"/>
<line x1="508.51" y1="232.00" x2="508.51" y2="237.00" stroke="#707070" stroke-width="0.7" />
<line x1="507.06" y1="232.00" x2="509.96" y2="232.00" stroke="#707070" stroke-width="0.7" />
<rect x="506.50" y="237.50" width="5.00" height="43.75" fill="#fff" stroke="#666" stroke-width="0.8"/>
<text x="364.00" y="231.60" font-size="8" text-anchor="middle" fill="#0a0a0a" textLength="62.00" lengthAdjust="spacingAndGlyphs" transform="rotate(-90 364.00 231.60)" style="stroke-width:0.25px" >PMNs in BAL [x10<tspan font-size="4.6" dy="-3">3</tspan><tspan dy="3">]</tspan></text>
<text x="394.40" y="289.25" font-size="5.7" text-anchor="end" fill="#0a0a0a" textLength="17.6" lengthAdjust="spacingAndGlyphs" transform="rotate(-57.5 394.40 289.25)">Control</text>
<text x="403.37" y="289.25" font-size="5.7" text-anchor="end" fill="#0a0a0a" textLength="41.5" lengthAdjust="spacingAndGlyphs" transform="rotate(-57.5 403.37 289.25)">Busulfan + MKEY</text>
<text x="412.34" y="289.25" font-size="5.7" text-anchor="end" fill="#0a0a0a" textLength="19.6" lengthAdjust="spacingAndGlyphs" transform="rotate(-57.5 412.34 289.25)">α-CXCL4</text>
<text x="421.31" y="289.25" font-size="5.7" text-anchor="end" fill="#0a0a0a" textLength="15.9" lengthAdjust="spacingAndGlyphs" transform="rotate(-57.5 421.31 289.25)">α-CCL5</text>
<text x="430.28" y="289.25" font-size="5.7" text-anchor="end" fill="#0a0a0a" textLength="32.3" lengthAdjust="spacingAndGlyphs" transform="rotate(-57.5 430.28 289.25)">α-LFA1/Mac1</text>
<text x="439.25" y="289.25" font-size="5.7" text-anchor="end" fill="#0a0a0a" textLength="51.9" lengthAdjust="spacingAndGlyphs" transform="rotate(-57.5 439.25 289.25)">α-LFA1/Mac1 + MKEY</text>
<text x="448.22" y="289.25" font-size="5.7" text-anchor="end" fill="#0a0a0a" textLength="40.6" lengthAdjust="spacingAndGlyphs" transform="rotate(-57.5 448.22 289.25)">Tyrobp<tspan font-size="3.6" dy="-2">-/-</tspan><tspan dy="2">/Fcerig</tspan><tspan font-size="3.6" dy="-2">-/-</tspan></text>
<text x="457.19" y="289.25" font-size="5.7" text-anchor="end" fill="#0a0a0a" textLength="17.6" lengthAdjust="spacingAndGlyphs" transform="rotate(-57.5 457.19 289.25)">Control</text>
<text x="466.16" y="289.25" font-size="5.7" text-anchor="end" fill="#0a0a0a" textLength="41.5" lengthAdjust="spacingAndGlyphs" transform="rotate(-57.5 466.16 289.25)">Busulfan + MKEY</text>
<text x="475.13" y="289.25" font-size="5.7" text-anchor="end" fill="#0a0a0a" textLength="19.6" lengthAdjust="spacingAndGlyphs" transform="rotate(-57.5 475.13 289.25)">α-CXCL4</text>
<text x="484.10" y="289.25" font-size="5.7" text-anchor="end" fill="#0a0a0a" textLength="15.9" lengthAdjust="spacingAndGlyphs" transform="rotate(-57.5 484.10 289.25)">α-CCL5</text>
<text x="493.07" y="289.25" font-size="5.7" text-anchor="end" fill="#0a0a0a" textLength="32.3" lengthAdjust="spacingAndGlyphs" transform="rotate(-57.5 493.07 289.25)">α-LFA1/Mac1</text>
<text x="502.04" y="289.25" font-size="5.7" text-anchor="end" fill="#0a0a0a" textLength="51.9" lengthAdjust="spacingAndGlyphs" transform="rotate(-57.5 502.04 289.25)">α-LFA1/Mac1 + MKEY</text>
<text x="511.01" y="289.25" font-size="5.7" text-anchor="end" fill="#0a0a0a" textLength="40.6" lengthAdjust="spacingAndGlyphs" transform="rotate(-57.5 511.01 289.25)">Tyrobp<tspan font-size="3.6" dy="-2">-/-</tspan><tspan dy="2">/Fcerig</tspan><tspan font-size="3.6" dy="-2">-/-</tspan></text>
<line x1="371.40" y1="335.70" x2="430.60" y2="335.70" stroke="#3a3a3a" stroke-width="1.25" />
<line x1="434.95" y1="335.70" x2="494.30" y2="335.70" stroke="#3a3a3a" stroke-width="1.25" />
<text x="402.15" y="344.90" font-size="7.2" text-anchor="middle" fill="#0a0a0a" textLength="18.00" lengthAdjust="spacingAndGlyphs" >Sham</text>
<text x="466.10" y="344.90" font-size="7.2" text-anchor="middle" fill="#0a0a0a" textLength="11.50" lengthAdjust="spacingAndGlyphs" >VILI</text>
<line x1="396.25" y1="184.70" x2="453.75" y2="184.70" stroke="#484848" stroke-width="1.4" />
<line x1="426.50" y1="175.15" x2="426.50" y2="181.25" stroke="#111" stroke-width="1.25" stroke-linecap="butt"/>
<line x1="423.86" y1="176.67" x2="429.14" y2="179.72" stroke="#111" stroke-width="1.25" stroke-linecap="butt"/>
<line x1="429.14" y1="176.67" x2="423.86" y2="179.72" stroke="#111" stroke-width="1.25" stroke-linecap="butt"/>
<line x1="456.25" y1="184.70" x2="514.25" y2="184.70" stroke="#484848" stroke-width="1.4" />
<line x1="487.00" y1="175.15" x2="487.00" y2="181.25" stroke="#111" stroke-width="1.25" stroke-linecap="butt"/>
<line x1="484.36" y1="176.67" x2="489.64" y2="179.72" stroke="#111" stroke-width="1.25" stroke-linecap="butt"/>
<line x1="489.64" y1="176.67" x2="484.36" y2="179.72" stroke="#111" stroke-width="1.25" stroke-linecap="butt"/>
<text x="87.00" y="367.10" font-size="11" text-anchor="start" fill="#000" font-weight="bold" >G</text>
<line x1="112.45" y1="363.50" x2="112.45" y2="462.80" stroke="#7a7a7a" stroke-width="0.8" />
<line x1="110.45" y1="462.80" x2="250.00" y2="462.80" stroke="#7a7a7a" stroke-width="0.8" />
<line x1="110.45" y1="462.80" x2="112.45" y2="462.80" stroke="#7a7a7a" stroke-width="0.8" />
<text x="108.45" y="464.74" font-size="5.4" text-anchor="end" fill="#0a0a0a" style="stroke-width:0.16px" >0,0</text>
<line x1="110.45" y1="442.94" x2="112.45" y2="442.94" stroke="#7a7a7a" stroke-width="0.8" />
<text x="108.45" y="444.88" font-size="5.4" text-anchor="end" fill="#0a0a0a" style="stroke-width:0.16px" >0,2</text>
<line x1="110.45" y1="423.08" x2="112.45" y2="423.08" stroke="#7a7a7a" stroke-width="0.8" />
<text x="108.45" y="425.02" font-size="5.4" text-anchor="end" fill="#0a0a0a" style="stroke-width:0.16px" >0,4</text>
<line x1="110.45" y1="403.22" x2="112.45" y2="403.22" stroke="#7a7a7a" stroke-width="0.8" />
<text x="108.45" y="405.16" font-size="5.4" text-anchor="end" fill="#0a0a0a" style="stroke-width:0.16px" >0,6</text>
<line x1="110.45" y1="383.36" x2="112.45" y2="383.36" stroke="#7a7a7a" stroke-width="0.8" />
<text x="108.45" y="385.30" font-size="5.4" text-anchor="end" fill="#0a0a0a" style="stroke-width:0.16px" >0,8</text>
<line x1="110.45" y1="363.50" x2="112.45" y2="363.50" stroke="#7a7a7a" stroke-width="0.8" />
<text x="108.45" y="365.44" font-size="5.4" text-anchor="end" fill="#0a0a0a" style="stroke-width:0.16px" >1,0</text>
<line x1="114.13" y1="462.80" x2="114.13" y2="464.40" stroke="#707070" stroke-width="0.8" />
<line x1="123.10" y1="462.80" x2="123.10" y2="464.40" stroke="#707070" stroke-width="0.8" />
<line x1="132.07" y1="462.80" x2="132.07" y2="464.40" stroke="#707070" stroke-width="0.8" />
<line x1="141.04" y1="462.80" x2="141.04" y2="464.40" stroke="#707070" stroke-width="0.8" />
<line x1="150.01" y1="462.80" x2="150.01" y2="464.40" stroke="#707070" stroke-width="0.8" />
<line x1="158.98" y1="462.80" x2="158.98" y2="464.40" stroke="#707070" stroke-width="0.8" />
<line x1="167.95" y1="462.80" x2="167.95" y2="464.40" stroke="#707070" stroke-width="0.8" />
<line x1="176.92" y1="462.80" x2="176.92" y2="464.40" stroke="#707070" stroke-width="0.8" />
<line x1="185.89" y1="462.80" x2="185.89" y2="464.40" stroke="#707070" stroke-width="0.8" />
<line x1="194.86" y1="462.80" x2="194.86" y2="464.40" stroke="#707070" stroke-width="0.8" />
<line x1="203.83" y1="462.80" x2="203.83" y2="464.40" stroke="#707070" stroke-width="0.8" />
<line x1="212.80" y1="462.80" x2="212.80" y2="464.40" stroke="#707070" stroke-width="0.8" />
<line x1="221.77" y1="462.80" x2="221.77" y2="464.40" stroke="#707070" stroke-width="0.8" />
<line x1="230.74" y1="462.80" x2="230.74" y2="464.40" stroke="#707070" stroke-width="0.8" />
<line x1="239.71" y1="462.80" x2="239.71" y2="464.40" stroke="#707070" stroke-width="0.8" />
<line x1="248.68" y1="462.80" x2="248.68" y2="464.40" stroke="#707070" stroke-width="0.8" />
<line x1="123.10" y1="453.25" x2="123.10" y2="455.75" stroke="#707070" stroke-width="0.7" />
<line x1="121.65" y1="453.25" x2="124.55" y2="453.25" stroke="#707070" stroke-width="0.7" />
<rect x="120.30" y="455.75" width="5.60" height="7.05" fill="#000"/>
<line x1="132.07" y1="455.50" x2="132.07" y2="456.75" stroke="#707070" stroke-width="0.7" />
<line x1="130.62" y1="455.50" x2="133.52" y2="455.50" stroke="#707070" stroke-width="0.7" />
<rect x="129.27" y="456.75" width="5.60" height="6.05" fill="#000"/>
<line x1="141.04" y1="455.00" x2="141.04" y2="457.00" stroke="#707070" stroke-width="0.7" />
<line x1="139.59" y1="455.00" x2="142.49" y2="455.00" stroke="#707070" stroke-width="0.7" />
<rect x="138.24" y="457.00" width="5.60" height="5.80" fill="#000"/>
<line x1="150.01" y1="455.75" x2="150.01" y2="458.00" stroke="#707070" stroke-width="0.7" />
<line x1="148.56" y1="455.75" x2="151.46" y2="455.75" stroke="#707070" stroke-width="0.7" />
<rect x="147.21" y="458.00" width="5.60" height="4.80" fill="#000"/>
<line x1="158.98" y1="455.00" x2="158.98" y2="457.00" stroke="#707070" stroke-width="0.7" />
<line x1="157.53" y1="455.00" x2="160.43" y2="455.00" stroke="#707070" stroke-width="0.7" />
<rect x="156.18" y="457.00" width="5.60" height="5.80" fill="#000"/>
<line x1="167.95" y1="455.50" x2="167.95" y2="457.25" stroke="#707070" stroke-width="0.7" />
<line x1="166.50" y1="455.50" x2="169.40" y2="455.50" stroke="#707070" stroke-width="0.7" />
<rect x="165.15" y="457.25" width="5.60" height="5.55" fill="#000"/>
<line x1="176.92" y1="456.25" x2="176.92" y2="458.25" stroke="#707070" stroke-width="0.7" />
<line x1="175.47" y1="456.25" x2="178.37" y2="456.25" stroke="#707070" stroke-width="0.7" />
<rect x="174.12" y="458.25" width="5.60" height="4.55" fill="#000"/>
<line x1="185.89" y1="395.00" x2="185.89" y2="395.50" stroke="#707070" stroke-width="0.7" />
<line x1="184.44" y1="395.00" x2="187.34" y2="395.00" stroke="#707070" stroke-width="0.7" />
<rect x="183.50" y="395.50" width="5.00" height="67.30" fill="#fff" stroke="#666" stroke-width="0.8"/>
<line x1="194.86" y1="443.10" x2="194.86" y2="445.50" stroke="#707070" stroke-width="0.7" />
<line x1="193.41" y1="443.10" x2="196.31" y2="443.10" stroke="#707070" stroke-width="0.7" />
<rect x="192.50" y="445.50" width="5.00" height="17.30" fill="#fff" stroke="#666" stroke-width="0.8"/>
<line x1="203.83" y1="434.40" x2="203.83" y2="438.25" stroke="#707070" stroke-width="0.7" />
<line x1="202.38" y1="434.40" x2="205.28" y2="434.40" stroke="#707070" stroke-width="0.7" />
<rect x="201.50" y="438.50" width="5.00" height="24.30" fill="#fff" stroke="#666" stroke-width="0.8"/>
<line x1="212.80" y1="439.30" x2="212.80" y2="442.00" stroke="#707070" stroke-width="0.7" />
<line x1="211.35" y1="439.30" x2="214.25" y2="439.30" stroke="#707070" stroke-width="0.7" />
<rect x="210.50" y="442.50" width="5.00" height="20.30" fill="#fff" stroke="#666" stroke-width="0.8"/>
<line x1="221.77" y1="435.60" x2="221.77" y2="438.00" stroke="#707070" stroke-width="0.7" />
<line x1="220.32" y1="435.60" x2="223.22" y2="435.60" stroke="#707070" stroke-width="0.7" />
<rect x="219.50" y="438.50" width="5.00" height="24.30" fill="#fff" stroke="#666" stroke-width="0.8"/>
<line x1="230.74" y1="431.60" x2="230.74" y2="434.25" stroke="#707070" stroke-width="0.7" />
<line x1="229.29" y1="431.60" x2="232.19" y2="431.60" stroke="#707070" stroke-width="0.7" />
<rect x="228.50" y="434.50" width="5.00" height="28.30" fill="#fff" stroke="#666" stroke-width="0.8"/>
<line x1="239.71" y1="437.40" x2="239.71" y2="440.25" stroke="#707070" stroke-width="0.7" />
<line x1="238.26" y1="437.40" x2="241.16" y2="437.40" stroke="#707070" stroke-width="0.7" />
<rect x="237.50" y="440.50" width="5.00" height="22.30" fill="#fff" stroke="#666" stroke-width="0.8"/>
<text x="93.00" y="413.70" font-size="7.5" text-anchor="middle" fill="#0a0a0a" textLength="71.00" lengthAdjust="spacingAndGlyphs" transform="rotate(-90 93.00 413.70)" style="stroke-width:0.25px" >Protein in BAL [mg/dl]</text>
<text x="124.20" y="470.90" font-size="5.7" text-anchor="end" fill="#0a0a0a" textLength="17.6" lengthAdjust="spacingAndGlyphs" transform="rotate(-57.5 124.20 470.90)">Control</text>
<text x="133.17" y="470.90" font-size="5.7" text-anchor="end" fill="#0a0a0a" textLength="41.5" lengthAdjust="spacingAndGlyphs" transform="rotate(-57.5 133.17 470.90)">Busulfan + MKEY</text>
<text x="142.14" y="470.90" font-size="5.7" text-anchor="end" fill="#0a0a0a" textLength="19.6" lengthAdjust="spacingAndGlyphs" transform="rotate(-57.5 142.14 470.90)">α-CXCL4</text>
<text x="151.11" y="470.90" font-size="5.7" text-anchor="end" fill="#0a0a0a" textLength="15.9" lengthAdjust="spacingAndGlyphs" transform="rotate(-57.5 151.11 470.90)">α-CCL5</text>
<text x="160.08" y="470.90" font-size="5.7" text-anchor="end" fill="#0a0a0a" textLength="32.3" lengthAdjust="spacingAndGlyphs" transform="rotate(-57.5 160.08 470.90)">α-LFA1/Mac1</text>
<text x="169.05" y="470.90" font-size="5.7" text-anchor="end" fill="#0a0a0a" textLength="51.9" lengthAdjust="spacingAndGlyphs" transform="rotate(-57.5 169.05 470.90)">α-LFA1/Mac1 + MKEY</text>
<text x="178.02" y="470.90" font-size="5.7" text-anchor="end" fill="#0a0a0a" textLength="40.6" lengthAdjust="spacingAndGlyphs" transform="rotate(-57.5 178.02 470.90)">Tyrobp<tspan font-size="3.6" dy="-2">-/-</tspan><tspan dy="2">/Fcerig</tspan><tspan font-size="3.6" dy="-2">-/-</tspan></text>
<text x="186.99" y="470.90" font-size="5.7" text-anchor="end" fill="#0a0a0a" textLength="17.6" lengthAdjust="spacingAndGlyphs" transform="rotate(-57.5 186.99 470.90)">Control</text>
<text x="195.96" y="470.90" font-size="5.7" text-anchor="end" fill="#0a0a0a" textLength="41.5" lengthAdjust="spacingAndGlyphs" transform="rotate(-57.5 195.96 470.90)">Busulfan + MKEY</text>
<text x="204.93" y="470.90" font-size="5.7" text-anchor="end" fill="#0a0a0a" textLength="19.6" lengthAdjust="spacingAndGlyphs" transform="rotate(-57.5 204.93 470.90)">α-CXCL4</text>
<text x="213.90" y="470.90" font-size="5.7" text-anchor="end" fill="#0a0a0a" textLength="15.9" lengthAdjust="spacingAndGlyphs" transform="rotate(-57.5 213.90 470.90)">α-CCL5</text>
<text x="222.87" y="470.90" font-size="5.7" text-anchor="end" fill="#0a0a0a" textLength="32.3" lengthAdjust="spacingAndGlyphs" transform="rotate(-57.5 222.87 470.90)">α-LFA1/Mac1</text>
<text x="231.84" y="470.90" font-size="5.7" text-anchor="end" fill="#0a0a0a" textLength="51.9" lengthAdjust="spacingAndGlyphs" transform="rotate(-57.5 231.84 470.90)">α-LFA1/Mac1 + MKEY</text>
<text x="240.81" y="470.90" font-size="5.7" text-anchor="end" fill="#0a0a0a" textLength="40.6" lengthAdjust="spacingAndGlyphs" transform="rotate(-57.5 240.81 470.90)">Tyrobp<tspan font-size="3.6" dy="-2">-/-</tspan><tspan dy="2">/Fcerig</tspan><tspan font-size="3.6" dy="-2">-/-</tspan></text>
<line x1="102.00" y1="517.75" x2="161.20" y2="517.75" stroke="#3a3a3a" stroke-width="1.25" />
<line x1="165.55" y1="517.75" x2="224.90" y2="517.75" stroke="#3a3a3a" stroke-width="1.25" />
<text x="132.75" y="526.95" font-size="7.2" text-anchor="middle" fill="#0a0a0a" textLength="18.00" lengthAdjust="spacingAndGlyphs" >Sham</text>
<text x="196.70" y="526.95" font-size="7.2" text-anchor="middle" fill="#0a0a0a" textLength="11.50" lengthAdjust="spacingAndGlyphs" >VILI</text>
<line x1="127.50" y1="389.00" x2="184.50" y2="389.00" stroke="#484848" stroke-width="1.4" />
<line x1="157.30" y1="379.45" x2="157.30" y2="385.55" stroke="#111" stroke-width="1.25" stroke-linecap="butt"/>
<line x1="154.66" y1="380.98" x2="159.94" y2="384.02" stroke="#111" stroke-width="1.25" stroke-linecap="butt"/>
<line x1="159.94" y1="380.98" x2="154.66" y2="384.02" stroke="#111" stroke-width="1.25" stroke-linecap="butt"/>
<line x1="188.75" y1="389.00" x2="246.75" y2="389.00" stroke="#484848" stroke-width="1.4" />
<line x1="219.25" y1="379.45" x2="219.25" y2="385.55" stroke="#111" stroke-width="1.25" stroke-linecap="butt"/>
<line x1="216.61" y1="380.98" x2="221.89" y2="384.02" stroke="#111" stroke-width="1.25" stroke-linecap="butt"/>
<line x1="221.89" y1="380.98" x2="216.61" y2="384.02" stroke="#111" stroke-width="1.25" stroke-linecap="butt"/>
<text x="271.60" y="366.80" font-size="11" text-anchor="start" fill="#000" font-weight="bold" >H</text>
<line x1="296.70" y1="363.25" x2="296.70" y2="463.10" stroke="#7a7a7a" stroke-width="0.8" />
<line x1="294.70" y1="463.10" x2="435.00" y2="463.10" stroke="#7a7a7a" stroke-width="0.8" />
<line x1="294.70" y1="463.10" x2="296.70" y2="463.10" stroke="#7a7a7a" stroke-width="0.8" />
<text x="292.70" y="465.04" font-size="5.4" text-anchor="end" fill="#0a0a0a" style="stroke-width:0.16px" >0</text>
<line x1="294.70" y1="448.84" x2="296.70" y2="448.84" stroke="#7a7a7a" stroke-width="0.8" />
<text x="292.70" y="450.78" font-size="5.4" text-anchor="end" fill="#0a0a0a" style="stroke-width:0.16px" >5</text>
<line x1="294.70" y1="434.58" x2="296.70" y2="434.58" stroke="#7a7a7a" stroke-width="0.8" />
<text x="292.70" y="436.52" font-size="5.4" text-anchor="end" fill="#0a0a0a" style="stroke-width:0.16px" >10</text>
<line x1="294.70" y1="420.32" x2="296.70" y2="420.32" stroke="#7a7a7a" stroke-width="0.8" />
<text x="292.70" y="422.26" font-size="5.4" text-anchor="end" fill="#0a0a0a" style="stroke-width:0.16px" >15</text>
<line x1="294.70" y1="406.06" x2="296.70" y2="406.06" stroke="#7a7a7a" stroke-width="0.8" />
<text x="292.70" y="408.00" font-size="5.4" text-anchor="end" fill="#0a0a0a" style="stroke-width:0.16px" >20</text>
<line x1="294.70" y1="391.80" x2="296.70" y2="391.80" stroke="#7a7a7a" stroke-width="0.8" />
<text x="292.70" y="393.74" font-size="5.4" text-anchor="end" fill="#0a0a0a" style="stroke-width:0.16px" >25</text>
<line x1="294.70" y1="377.54" x2="296.70" y2="377.54" stroke="#7a7a7a" stroke-width="0.8" />
<text x="292.70" y="379.48" font-size="5.4" text-anchor="end" fill="#0a0a0a" style="stroke-width:0.16px" >30</text>
<line x1="294.70" y1="363.28" x2="296.70" y2="363.28" stroke="#7a7a7a" stroke-width="0.8" />
<text x="292.70" y="365.22" font-size="5.4" text-anchor="end" fill="#0a0a0a" style="stroke-width:0.16px" >35</text>
<line x1="298.78" y1="463.10" x2="298.78" y2="464.70" stroke="#707070" stroke-width="0.8" />
<line x1="307.75" y1="463.10" x2="307.75" y2="464.70" stroke="#707070" stroke-width="0.8" />
<line x1="316.72" y1="463.10" x2="316.72" y2="464.70" stroke="#707070" stroke-width="0.8" />
<line x1="325.69" y1="463.10" x2="325.69" y2="464.70" stroke="#707070" stroke-width="0.8" />
<line x1="334.66" y1="463.10" x2="334.66" y2="464.70" stroke="#707070" stroke-width="0.8" />
<line x1="343.63" y1="463.10" x2="343.63" y2="464.70" stroke="#707070" stroke-width="0.8" />
<line x1="352.60" y1="463.10" x2="352.60" y2="464.70" stroke="#707070" stroke-width="0.8" />
<line x1="361.57" y1="463.10" x2="361.57" y2="464.70" stroke="#707070" stroke-width="0.8" />
<line x1="370.54" y1="463.10" x2="370.54" y2="464.70" stroke="#707070" stroke-width="0.8" />
<line x1="379.51" y1="463.10" x2="379.51" y2="464.70" stroke="#707070" stroke-width="0.8" />
<line x1="388.48" y1="463.10" x2="388.48" y2="464.70" stroke="#707070" stroke-width="0.8" />
<line x1="397.45" y1="463.10" x2="397.45" y2="464.70" stroke="#707070" stroke-width="0.8" />
<line x1="406.42" y1="463.10" x2="406.42" y2="464.70" stroke="#707070" stroke-width="0.8" />
<line x1="415.39" y1="463.10" x2="415.39" y2="464.70" stroke="#707070" stroke-width="0.8" />
<line x1="424.36" y1="463.10" x2="424.36" y2="464.70" stroke="#707070" stroke-width="0.8" />
<line x1="433.33" y1="463.10" x2="433.33" y2="464.70" stroke="#707070" stroke-width="0.8" />
<line x1="307.75" y1="449.00" x2="307.75" y2="453.00" stroke="#707070" stroke-width="0.7" />
<line x1="306.30" y1="449.00" x2="309.20" y2="449.00" stroke="#707070" stroke-width="0.7" />
<rect x="304.95" y="453.00" width="5.60" height="10.10" fill="#000"/>
<line x1="316.72" y1="451.75" x2="316.72" y2="454.25" stroke="#707070" stroke-width="0.7" />
<line x1="315.27" y1="451.75" x2="318.17" y2="451.75" stroke="#707070" stroke-width="0.7" />
<rect x="313.92" y="454.25" width="5.60" height="8.85" fill="#000"/>
<line x1="325.69" y1="442.50" x2="325.69" y2="448.25" stroke="#707070" stroke-width="0.7" />
<line x1="324.24" y1="442.50" x2="327.14" y2="442.50" stroke="#707070" stroke-width="0.7" />
<rect x="322.89" y="448.25" width="5.60" height="14.85" fill="#000"/>
<line x1="334.66" y1="445.50" x2="334.66" y2="451.25" stroke="#707070" stroke-width="0.7" />
<line x1="333.21" y1="445.50" x2="336.11" y2="445.50" stroke="#707070" stroke-width="0.7" />
<rect x="331.86" y="451.25" width="5.60" height="11.85" fill="#000"/>
<line x1="343.63" y1="448.00" x2="343.63" y2="452.00" stroke="#707070" stroke-width="0.7" />
<line x1="342.18" y1="448.00" x2="345.08" y2="448.00" stroke="#707070" stroke-width="0.7" />
<rect x="340.83" y="452.00" width="5.60" height="11.10" fill="#000"/>
<line x1="352.60" y1="442.50" x2="352.60" y2="447.50" stroke="#707070" stroke-width="0.7" />
<line x1="351.15" y1="442.50" x2="354.05" y2="442.50" stroke="#707070" stroke-width="0.7" />
<rect x="349.80" y="447.50" width="5.60" height="15.60" fill="#000"/>
<line x1="361.57" y1="443.25" x2="361.57" y2="449.75" stroke="#707070" stroke-width="0.7" />
<line x1="360.12" y1="443.25" x2="363.02" y2="443.25" stroke="#707070" stroke-width="0.7" />
<rect x="358.77" y="449.75" width="5.60" height="13.35" fill="#000"/>
<line x1="370.54" y1="380.50" x2="370.54" y2="395.50" stroke="#707070" stroke-width="0.7" />
<line x1="369.09" y1="380.50" x2="371.99" y2="380.50" stroke="#707070" stroke-width="0.7" />
<rect x="368.50" y="395.50" width="5.00" height="67.60" fill="#fff" stroke="#666" stroke-width="0.8"/>
<line x1="379.51" y1="434.50" x2="379.51" y2="439.25" stroke="#707070" stroke-width="0.7" />
<line x1="378.06" y1="434.50" x2="380.96" y2="434.50" stroke="#707070" stroke-width="0.7" />
<rect x="377.50" y="439.50" width="5.00" height="23.60" fill="#fff" stroke="#666" stroke-width="0.8"/>
<line x1="388.48" y1="427.00" x2="388.48" y2="434.25" stroke="#707070" stroke-width="0.7" />
<line x1="387.03" y1="427.00" x2="389.93" y2="427.00" stroke="#707070" stroke-width="0.7" />
<rect x="385.50" y="434.50" width="5.00" height="28.60" fill="#fff" stroke="#666" stroke-width="0.8"/>
<line x1="397.45" y1="435.75" x2="397.45" y2="442.50" stroke="#707070" stroke-width="0.7" />
<line x1="396.00" y1="435.75" x2="398.90" y2="435.75" stroke="#707070" stroke-width="0.7" />
<rect x="394.50" y="442.50" width="5.00" height="20.60" fill="#fff" stroke="#666" stroke-width="0.8"/>
<line x1="406.42" y1="439.50" x2="406.42" y2="443.50" stroke="#707070" stroke-width="0.7" />
<line x1="404.97" y1="439.50" x2="407.87" y2="439.50" stroke="#707070" stroke-width="0.7" />
<rect x="403.50" y="443.50" width="5.00" height="19.60" fill="#fff" stroke="#666" stroke-width="0.8"/>
<line x1="415.39" y1="432.50" x2="415.39" y2="435.50" stroke="#707070" stroke-width="0.7" />
<line x1="413.94" y1="432.50" x2="416.84" y2="432.50" stroke="#707070" stroke-width="0.7" />
<rect x="412.50" y="435.50" width="5.00" height="27.60" fill="#fff" stroke="#666" stroke-width="0.8"/>
<line x1="424.36" y1="430.75" x2="424.36" y2="438.25" stroke="#707070" stroke-width="0.7" />
<line x1="422.91" y1="430.75" x2="425.81" y2="430.75" stroke="#707070" stroke-width="0.7" />
<rect x="421.50" y="438.50" width="5.00" height="24.60" fill="#fff" stroke="#666" stroke-width="0.8"/>
<text x="278.30" y="413.00" font-size="7.5" text-anchor="middle" fill="#0a0a0a" textLength="51.00" lengthAdjust="spacingAndGlyphs" transform="rotate(-90 278.30 413.00)" style="stroke-width:0.25px" >CD41<tspan font-size="4.4" dy="-2.9">+</tspan><tspan dy="2.9"> PMNs [%]</tspan></text>
<text x="309.25" y="471.40" font-size="5.7" text-anchor="end" fill="#0a0a0a" textLength="17.6" lengthAdjust="spacingAndGlyphs" transform="rotate(-57.5 309.25 471.40)">Control</text>
<text x="318.22" y="471.40" font-size="5.7" text-anchor="end" fill="#0a0a0a" textLength="41.5" lengthAdjust="spacingAndGlyphs" transform="rotate(-57.5 318.22 471.40)">Busulfan + MKEY</text>
<text x="327.19" y="471.40" font-size="5.7" text-anchor="end" fill="#0a0a0a" textLength="19.6" lengthAdjust="spacingAndGlyphs" transform="rotate(-57.5 327.19 471.40)">α-CXCL4</text>
<text x="336.16" y="471.40" font-size="5.7" text-anchor="end" fill="#0a0a0a" textLength="15.9" lengthAdjust="spacingAndGlyphs" transform="rotate(-57.5 336.16 471.40)">α-CCL5</text>
<text x="345.13" y="471.40" font-size="5.7" text-anchor="end" fill="#0a0a0a" textLength="32.3" lengthAdjust="spacingAndGlyphs" transform="rotate(-57.5 345.13 471.40)">α-LFA1/Mac1</text>
<text x="354.10" y="471.40" font-size="5.7" text-anchor="end" fill="#0a0a0a" textLength="51.9" lengthAdjust="spacingAndGlyphs" transform="rotate(-57.5 354.10 471.40)">α-LFA1/Mac1 + MKEY</text>
<text x="363.07" y="471.40" font-size="5.7" text-anchor="end" fill="#0a0a0a" textLength="40.6" lengthAdjust="spacingAndGlyphs" transform="rotate(-57.5 363.07 471.40)">Tyrobp<tspan font-size="3.6" dy="-2">-/-</tspan><tspan dy="2">/Fcerig</tspan><tspan font-size="3.6" dy="-2">-/-</tspan></text>
<text x="372.04" y="471.40" font-size="5.7" text-anchor="end" fill="#0a0a0a" textLength="17.6" lengthAdjust="spacingAndGlyphs" transform="rotate(-57.5 372.04 471.40)">Control</text>
<text x="381.01" y="471.40" font-size="5.7" text-anchor="end" fill="#0a0a0a" textLength="41.5" lengthAdjust="spacingAndGlyphs" transform="rotate(-57.5 381.01 471.40)">Busulfan + MKEY</text>
<text x="389.98" y="471.40" font-size="5.7" text-anchor="end" fill="#0a0a0a" textLength="19.6" lengthAdjust="spacingAndGlyphs" transform="rotate(-57.5 389.98 471.40)">α-CXCL4</text>
<text x="398.95" y="471.40" font-size="5.7" text-anchor="end" fill="#0a0a0a" textLength="15.9" lengthAdjust="spacingAndGlyphs" transform="rotate(-57.5 398.95 471.40)">α-CCL5</text>
<text x="407.92" y="471.40" font-size="5.7" text-anchor="end" fill="#0a0a0a" textLength="32.3" lengthAdjust="spacingAndGlyphs" transform="rotate(-57.5 407.92 471.40)">α-LFA1/Mac1</text>
<text x="416.89" y="471.40" font-size="5.7" text-anchor="end" fill="#0a0a0a" textLength="51.9" lengthAdjust="spacingAndGlyphs" transform="rotate(-57.5 416.89 471.40)">α-LFA1/Mac1 + MKEY</text>
<text x="425.86" y="471.40" font-size="5.7" text-anchor="end" fill="#0a0a0a" textLength="40.6" lengthAdjust="spacingAndGlyphs" transform="rotate(-57.5 425.86 471.40)">Tyrobp<tspan font-size="3.6" dy="-2">-/-</tspan><tspan dy="2">/Fcerig</tspan><tspan font-size="3.6" dy="-2">-/-</tspan></text>
<line x1="286.20" y1="517.85" x2="345.40" y2="517.85" stroke="#3a3a3a" stroke-width="1.25" />
<line x1="349.75" y1="517.85" x2="409.10" y2="517.85" stroke="#3a3a3a" stroke-width="1.25" />
<text x="316.95" y="527.05" font-size="7.2" text-anchor="middle" fill="#0a0a0a" textLength="18.00" lengthAdjust="spacingAndGlyphs" >Sham</text>
<text x="380.90" y="527.05" font-size="7.2" text-anchor="middle" fill="#0a0a0a" textLength="11.50" lengthAdjust="spacingAndGlyphs" >VILI</text>
<line x1="311.25" y1="375.00" x2="368.75" y2="375.00" stroke="#484848" stroke-width="1.4" />
<line x1="341.75" y1="365.70" x2="341.75" y2="371.80" stroke="#111" stroke-width="1.25" stroke-linecap="butt"/>
<line x1="339.11" y1="367.23" x2="344.39" y2="370.27" stroke="#111" stroke-width="1.25" stroke-linecap="butt"/>
<line x1="344.39" y1="367.23" x2="339.11" y2="370.27" stroke="#111" stroke-width="1.25" stroke-linecap="butt"/>
<line x1="372.50" y1="375.00" x2="430.50" y2="375.00" stroke="#484848" stroke-width="1.4" />
<line x1="403.00" y1="365.70" x2="403.00" y2="371.80" stroke="#111" stroke-width="1.25" stroke-linecap="butt"/>
<line x1="400.36" y1="367.23" x2="405.64" y2="370.27" stroke="#111" stroke-width="1.25" stroke-linecap="butt"/>
<line x1="405.64" y1="367.23" x2="400.36" y2="370.27" stroke="#111" stroke-width="1.25" stroke-linecap="butt"/>
</svg>
</body></html>
